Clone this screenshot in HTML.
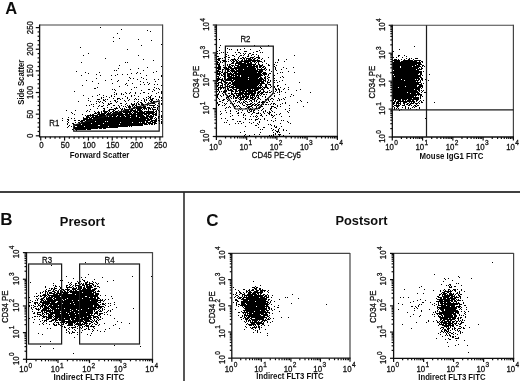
<!DOCTYPE html>
<html><head><meta charset="utf-8"><style>
html,body{margin:0;padding:0;background:#fff;}
body{width:520px;height:381px;overflow:hidden;font-family:"Liberation Sans", sans-serif;}
svg{display:block;}
</style></head><body><svg width="520" height="381" viewBox="0 0 520 381" font-family='"Liberation Sans", sans-serif' fill="#111"><defs><filter id="bl" x="0" y="0" width="100%" height="100%"><feGaussianBlur stdDeviation="0.45"/></filter></defs><rect width="520" height="381" fill="#fff"/><g filter="url(#bl)"><path d="M100 27h1v1h-1zM121 29h1v1h-1zM147 30h1v1h-1zM150 31h1v1h-1zM117 33h1v1h-1zM113 37h1v1h-1zM119 38h1v1h-1zM138 39h1v1h-1zM219 39h1v1h-1zM151 40h1v1h-1zM113 41h1v1h-1zM161 44h1v1h-1zM141 45h1v1h-1zM220 45h1v1h-1zM254 45h1v1h-1zM268 45h1v1h-1zM414 46h1v1h-1zM80 47h1v1h-1zM219 47h1v1h-1zM260 47h1v1h-1zM227 48h1v1h-1zM244 48h1v1h-1zM261 48h1v1h-1zM127 49h1v1h-1zM229 49h1v1h-1zM231 49h1v1h-1zM237 49h1v1h-1zM240 49h1v1h-1zM250 49h1v1h-1zM399 49h1v1h-1zM219 50h1v1h-1zM237 50h1v1h-1zM259 50h1v1h-1zM217 51h1v1h-1zM244 51h3v1h-3zM256 51h2v1h-2zM393 51h1v1h-1zM221 52h1v1h-1zM223 52h1v1h-1zM227 52h1v1h-1zM235 52h1v1h-1zM238 52h2v1h-2zM253 52h1v1h-1zM260 52h1v1h-1zM262 52h1v1h-1zM88 53h1v1h-1zM217 53h1v1h-1zM219 53h1v1h-1zM240 53h1v1h-1zM243 53h1v1h-1zM245 53h1v1h-1zM249 53h2v1h-2zM226 54h1v1h-1zM236 54h1v1h-1zM244 54h1v1h-1zM248 54h1v1h-1zM252 54h2v1h-2zM256 54h1v1h-1zM83 55h1v1h-1zM138 55h1v1h-1zM228 55h1v1h-1zM232 55h2v1h-2zM240 55h2v1h-2zM243 55h1v1h-1zM248 55h1v1h-1zM251 55h1v1h-1zM258 55h1v1h-1zM294 55h1v1h-1zM398 55h2v1h-2zM404 55h1v1h-1zM217 56h2v1h-2zM226 56h1v1h-1zM234 56h1v1h-1zM239 56h1v1h-1zM247 56h2v1h-2zM254 56h1v1h-1zM258 56h1v1h-1zM398 56h1v1h-1zM406 56h1v1h-1zM224 57h1v1h-1zM228 57h2v1h-2zM238 57h1v1h-1zM242 57h2v1h-2zM245 57h1v1h-1zM250 57h4v1h-4zM256 57h4v1h-4zM268 57h1v1h-1zM393 57h1v1h-1zM396 57h1v1h-1zM402 57h1v1h-1zM105 58h1v1h-1zM218 58h3v1h-3zM222 58h1v1h-1zM234 58h1v1h-1zM238 58h1v1h-1zM240 58h2v1h-2zM243 58h2v1h-2zM246 58h5v1h-5zM252 58h1v1h-1zM254 58h2v1h-2zM258 58h2v1h-2zM262 58h1v1h-1zM406 58h1v1h-1zM409 58h1v1h-1zM411 58h1v1h-1zM415 58h3v1h-3zM143 59h1v1h-1zM217 59h3v1h-3zM225 59h1v1h-1zM228 59h1v1h-1zM231 59h5v1h-5zM237 59h1v1h-1zM242 59h1v1h-1zM244 59h1v1h-1zM246 59h1v1h-1zM248 59h4v1h-4zM253 59h2v1h-2zM257 59h1v1h-1zM261 59h1v1h-1zM278 59h1v1h-1zM286 59h1v1h-1zM394 59h3v1h-3zM398 59h1v1h-1zM401 59h1v1h-1zM404 59h1v1h-1zM408 59h2v1h-2zM413 59h1v1h-1zM153 60h1v1h-1zM218 60h2v1h-2zM222 60h3v1h-3zM230 60h1v1h-1zM232 60h2v1h-2zM235 60h2v1h-2zM238 60h1v1h-1zM241 60h2v1h-2zM244 60h16v1h-16zM264 60h1v1h-1zM278 60h1v1h-1zM393 60h7v1h-7zM403 60h10v1h-10zM414 60h7v1h-7zM217 61h1v1h-1zM220 61h1v1h-1zM223 61h2v1h-2zM226 61h1v1h-1zM228 61h1v1h-1zM231 61h1v1h-1zM233 61h2v1h-2zM236 61h2v1h-2zM239 61h12v1h-12zM252 61h4v1h-4zM257 61h5v1h-5zM264 61h1v1h-1zM284 61h1v1h-1zM394 61h6v1h-6zM401 61h16v1h-16zM419 61h1v1h-1zM421 61h2v1h-2zM81 62h1v1h-1zM125 62h1v1h-1zM127 62h1v1h-1zM217 62h2v1h-2zM220 62h1v1h-1zM222 62h1v1h-1zM232 62h2v1h-2zM236 62h6v1h-6zM244 62h5v1h-5zM250 62h2v1h-2zM254 62h1v1h-1zM256 62h1v1h-1zM258 62h1v1h-1zM262 62h1v1h-1zM275 62h1v1h-1zM277 62h1v1h-1zM393 62h28v1h-28zM422 62h1v1h-1zM217 63h1v1h-1zM219 63h1v1h-1zM225 63h1v1h-1zM231 63h3v1h-3zM235 63h11v1h-11zM247 63h5v1h-5zM255 63h1v1h-1zM258 63h1v1h-1zM266 63h1v1h-1zM393 63h28v1h-28zM217 64h3v1h-3zM227 64h1v1h-1zM229 64h2v1h-2zM235 64h1v1h-1zM238 64h18v1h-18zM258 64h2v1h-2zM262 64h1v1h-1zM268 64h1v1h-1zM274 64h1v1h-1zM393 64h24v1h-24zM418 64h4v1h-4zM119 65h1v1h-1zM218 65h2v1h-2zM223 65h1v1h-1zM227 65h1v1h-1zM229 65h1v1h-1zM231 65h3v1h-3zM235 65h4v1h-4zM240 65h12v1h-12zM253 65h2v1h-2zM256 65h2v1h-2zM259 65h4v1h-4zM268 65h2v1h-2zM276 65h1v1h-1zM393 65h22v1h-22zM416 65h4v1h-4zM422 65h2v1h-2zM161 66h1v1h-1zM218 66h3v1h-3zM225 66h1v1h-1zM228 66h3v1h-3zM232 66h1v1h-1zM234 66h1v1h-1zM237 66h10v1h-10zM248 66h10v1h-10zM259 66h3v1h-3zM263 66h2v1h-2zM274 66h1v1h-1zM393 66h7v1h-7zM401 66h11v1h-11zM413 66h8v1h-8zM422 66h1v1h-1zM424 66h1v1h-1zM147 67h1v1h-1zM217 67h4v1h-4zM223 67h4v1h-4zM228 67h4v1h-4zM234 67h21v1h-21zM256 67h2v1h-2zM259 67h2v1h-2zM262 67h2v1h-2zM265 67h1v1h-1zM275 67h1v1h-1zM283 67h1v1h-1zM293 67h1v1h-1zM393 67h7v1h-7zM401 67h18v1h-18zM421 67h1v1h-1zM118 68h1v1h-1zM138 68h1v1h-1zM217 68h4v1h-4zM224 68h5v1h-5zM230 68h26v1h-26zM257 68h1v1h-1zM261 68h1v1h-1zM264 68h2v1h-2zM275 68h1v1h-1zM286 68h1v1h-1zM393 68h25v1h-25zM419 68h1v1h-1zM421 68h2v1h-2zM130 69h1v1h-1zM218 69h3v1h-3zM222 69h2v1h-2zM225 69h5v1h-5zM231 69h3v1h-3zM235 69h2v1h-2zM238 69h5v1h-5zM244 69h12v1h-12zM257 69h8v1h-8zM266 69h1v1h-1zM269 69h1v1h-1zM275 69h1v1h-1zM281 69h1v1h-1zM393 69h23v1h-23zM417 69h5v1h-5zM114 70h1v1h-1zM116 70h1v1h-1zM143 70h1v1h-1zM217 70h2v1h-2zM222 70h1v1h-1zM225 70h1v1h-1zM227 70h2v1h-2zM230 70h5v1h-5zM236 70h22v1h-22zM259 70h4v1h-4zM265 70h1v1h-1zM269 70h1v1h-1zM276 70h1v1h-1zM394 70h25v1h-25zM76 71h1v1h-1zM156 71h1v1h-1zM217 71h4v1h-4zM222 71h1v1h-1zM225 71h1v1h-1zM227 71h3v1h-3zM231 71h32v1h-32zM271 71h1v1h-1zM288 71h1v1h-1zM393 71h29v1h-29zM423 71h1v1h-1zM85 72h1v1h-1zM99 72h1v1h-1zM137 72h1v1h-1zM153 72h1v1h-1zM217 72h1v1h-1zM219 72h1v1h-1zM221 72h2v1h-2zM224 72h1v1h-1zM226 72h2v1h-2zM230 72h1v1h-1zM232 72h1v1h-1zM234 72h3v1h-3zM238 72h19v1h-19zM258 72h4v1h-4zM263 72h3v1h-3zM280 72h1v1h-1zM282 72h1v1h-1zM294 72h1v1h-1zM393 72h29v1h-29zM88 73h1v1h-1zM131 73h1v1h-1zM136 73h1v1h-1zM140 73h1v1h-1zM217 73h4v1h-4zM223 73h3v1h-3zM227 73h5v1h-5zM233 73h28v1h-28zM262 73h5v1h-5zM269 73h2v1h-2zM277 73h1v1h-1zM393 73h26v1h-26zM420 73h2v1h-2zM96 74h1v1h-1zM117 74h1v1h-1zM122 74h1v1h-1zM127 74h1v1h-1zM217 74h3v1h-3zM221 74h1v1h-1zM223 74h2v1h-2zM227 74h7v1h-7zM235 74h27v1h-27zM263 74h4v1h-4zM268 74h1v1h-1zM273 74h1v1h-1zM394 74h24v1h-24zM420 74h2v1h-2zM429 74h1v1h-1zM81 75h1v1h-1zM100 75h1v1h-1zM111 75h1v1h-1zM115 75h1v1h-1zM146 75h1v1h-1zM161 75h1v1h-1zM219 75h1v1h-1zM221 75h2v1h-2zM224 75h1v1h-1zM227 75h3v1h-3zM231 75h6v1h-6zM238 75h2v1h-2zM241 75h22v1h-22zM264 75h1v1h-1zM268 75h1v1h-1zM274 75h1v1h-1zM393 75h28v1h-28zM422 75h1v1h-1zM426 75h1v1h-1zM161 76h1v1h-1zM217 76h2v1h-2zM223 76h3v1h-3zM227 76h5v1h-5zM233 76h1v1h-1zM235 76h5v1h-5zM241 76h20v1h-20zM265 76h1v1h-1zM267 76h1v1h-1zM273 76h1v1h-1zM282 76h1v1h-1zM393 76h1v1h-1zM395 76h26v1h-26zM129 77h1v1h-1zM141 77h1v1h-1zM218 77h1v1h-1zM220 77h1v1h-1zM224 77h2v1h-2zM228 77h20v1h-20zM249 77h10v1h-10zM260 77h2v1h-2zM264 77h2v1h-2zM268 77h2v1h-2zM273 77h1v1h-1zM280 77h1v1h-1zM283 77h1v1h-1zM393 77h26v1h-26zM420 77h2v1h-2zM96 78h1v1h-1zM130 78h1v1h-1zM133 78h1v1h-1zM143 78h1v1h-1zM217 78h3v1h-3zM222 78h1v1h-1zM224 78h2v1h-2zM227 78h31v1h-31zM259 78h4v1h-4zM264 78h2v1h-2zM267 78h1v1h-1zM274 78h1v1h-1zM393 78h27v1h-27zM421 78h2v1h-2zM111 79h1v1h-1zM137 79h1v1h-1zM146 79h1v1h-1zM154 79h1v1h-1zM158 79h1v1h-1zM217 79h6v1h-6zM224 79h1v1h-1zM226 79h6v1h-6zM233 79h15v1h-15zM249 79h15v1h-15zM265 79h1v1h-1zM268 79h1v1h-1zM393 79h8v1h-8zM402 79h13v1h-13zM416 79h1v1h-1zM418 79h2v1h-2zM421 79h2v1h-2zM425 79h1v1h-1zM86 80h1v1h-1zM105 80h1v1h-1zM118 80h1v1h-1zM128 80h1v1h-1zM217 80h2v1h-2zM221 80h3v1h-3zM226 80h8v1h-8zM235 80h27v1h-27zM263 80h3v1h-3zM268 80h1v1h-1zM270 80h1v1h-1zM274 80h1v1h-1zM276 80h1v1h-1zM282 80h1v1h-1zM393 80h11v1h-11zM405 80h14v1h-14zM420 80h1v1h-1zM422 80h1v1h-1zM428 80h1v1h-1zM92 81h1v1h-1zM117 81h1v1h-1zM140 81h1v1h-1zM155 81h1v1h-1zM217 81h1v1h-1zM221 81h1v1h-1zM223 81h2v1h-2zM231 81h2v1h-2zM234 81h30v1h-30zM265 81h1v1h-1zM267 81h1v1h-1zM270 81h1v1h-1zM279 81h1v1h-1zM393 81h23v1h-23zM417 81h1v1h-1zM420 81h1v1h-1zM143 82h1v1h-1zM147 82h1v1h-1zM218 82h4v1h-4zM224 82h4v1h-4zM229 82h2v1h-2zM232 82h28v1h-28zM261 82h3v1h-3zM267 82h3v1h-3zM274 82h1v1h-1zM277 82h1v1h-1zM299 82h1v1h-1zM393 82h28v1h-28zM98 83h1v1h-1zM112 83h1v1h-1zM126 83h1v1h-1zM132 83h1v1h-1zM149 83h1v1h-1zM217 83h2v1h-2zM221 83h2v1h-2zM226 83h1v1h-1zM228 83h3v1h-3zM232 83h33v1h-33zM267 83h1v1h-1zM393 83h26v1h-26zM421 83h1v1h-1zM423 83h1v1h-1zM125 84h1v1h-1zM140 84h1v1h-1zM144 84h1v1h-1zM148 84h1v1h-1zM154 84h1v1h-1zM157 84h1v1h-1zM218 84h1v1h-1zM222 84h1v1h-1zM224 84h1v1h-1zM227 84h2v1h-2zM231 84h28v1h-28zM260 84h2v1h-2zM265 84h2v1h-2zM268 84h3v1h-3zM285 84h1v1h-1zM393 84h29v1h-29zM82 85h1v1h-1zM127 85h1v1h-1zM161 85h1v1h-1zM217 85h2v1h-2zM220 85h3v1h-3zM225 85h1v1h-1zM227 85h1v1h-1zM229 85h2v1h-2zM233 85h25v1h-25zM259 85h3v1h-3zM265 85h2v1h-2zM270 85h1v1h-1zM277 85h2v1h-2zM393 85h24v1h-24zM419 85h4v1h-4zM119 86h1v1h-1zM217 86h1v1h-1zM220 86h1v1h-1zM222 86h1v1h-1zM226 86h4v1h-4zM231 86h3v1h-3zM235 86h22v1h-22zM258 86h1v1h-1zM260 86h1v1h-1zM262 86h1v1h-1zM265 86h2v1h-2zM271 86h1v1h-1zM274 86h1v1h-1zM277 86h1v1h-1zM393 86h12v1h-12zM406 86h11v1h-11zM418 86h5v1h-5zM97 87h1v1h-1zM134 87h1v1h-1zM136 87h1v1h-1zM154 87h1v1h-1zM218 87h8v1h-8zM227 87h1v1h-1zM229 87h33v1h-33zM263 87h5v1h-5zM270 87h1v1h-1zM274 87h1v1h-1zM280 87h1v1h-1zM288 87h1v1h-1zM393 87h5v1h-5zM399 87h22v1h-22zM422 87h1v1h-1zM94 88h2v1h-2zM156 88h1v1h-1zM158 88h1v1h-1zM218 88h1v1h-1zM220 88h2v1h-2zM223 88h1v1h-1zM225 88h1v1h-1zM227 88h2v1h-2zM232 88h2v1h-2zM236 88h25v1h-25zM262 88h1v1h-1zM264 88h1v1h-1zM267 88h2v1h-2zM275 88h1v1h-1zM278 88h1v1h-1zM284 88h1v1h-1zM393 88h27v1h-27zM421 88h1v1h-1zM112 89h1v1h-1zM114 89h1v1h-1zM131 89h1v1h-1zM148 89h2v1h-2zM153 89h1v1h-1zM159 89h1v1h-1zM217 89h2v1h-2zM220 89h1v1h-1zM227 89h2v1h-2zM230 89h2v1h-2zM233 89h4v1h-4zM239 89h8v1h-8zM248 89h3v1h-3zM252 89h1v1h-1zM254 89h5v1h-5zM261 89h3v1h-3zM275 89h2v1h-2zM278 89h2v1h-2zM283 89h1v1h-1zM288 89h1v1h-1zM300 89h1v1h-1zM393 89h21v1h-21zM415 89h5v1h-5zM115 90h1v1h-1zM141 90h1v1h-1zM154 90h1v1h-1zM218 90h1v1h-1zM224 90h1v1h-1zM226 90h1v1h-1zM228 90h5v1h-5zM235 90h2v1h-2zM238 90h7v1h-7zM246 90h12v1h-12zM260 90h1v1h-1zM263 90h1v1h-1zM269 90h1v1h-1zM276 90h1v1h-1zM279 90h1v1h-1zM296 90h1v1h-1zM393 90h24v1h-24zM418 90h2v1h-2zM421 90h1v1h-1zM423 90h1v1h-1zM74 91h1v1h-1zM152 91h1v1h-1zM161 91h1v1h-1zM217 91h1v1h-1zM219 91h1v1h-1zM221 91h1v1h-1zM223 91h2v1h-2zM226 91h1v1h-1zM231 91h3v1h-3zM235 91h3v1h-3zM239 91h2v1h-2zM242 91h14v1h-14zM258 91h3v1h-3zM263 91h2v1h-2zM267 91h1v1h-1zM271 91h1v1h-1zM275 91h1v1h-1zM279 91h1v1h-1zM281 91h1v1h-1zM393 91h25v1h-25zM419 91h1v1h-1zM422 91h1v1h-1zM114 92h1v1h-1zM125 92h1v1h-1zM130 92h1v1h-1zM135 92h1v1h-1zM143 92h2v1h-2zM158 92h1v1h-1zM161 92h1v1h-1zM219 92h1v1h-1zM223 92h3v1h-3zM231 92h1v1h-1zM235 92h1v1h-1zM239 92h5v1h-5zM245 92h2v1h-2zM248 92h5v1h-5zM254 92h2v1h-2zM257 92h3v1h-3zM261 92h3v1h-3zM265 92h3v1h-3zM269 92h2v1h-2zM277 92h1v1h-1zM279 92h1v1h-1zM285 92h1v1h-1zM310 92h1v1h-1zM393 92h14v1h-14zM408 92h11v1h-11zM421 92h1v1h-1zM424 92h2v1h-2zM116 93h1v1h-1zM121 93h1v1h-1zM126 93h1v1h-1zM129 93h1v1h-1zM135 93h1v1h-1zM140 93h1v1h-1zM148 93h1v1h-1zM156 93h1v1h-1zM161 93h1v1h-1zM218 93h1v1h-1zM222 93h1v1h-1zM228 93h2v1h-2zM231 93h2v1h-2zM234 93h22v1h-22zM257 93h2v1h-2zM260 93h3v1h-3zM272 93h1v1h-1zM274 93h1v1h-1zM393 93h17v1h-17zM411 93h5v1h-5zM417 93h3v1h-3zM99 94h1v1h-1zM114 94h1v1h-1zM116 94h1v1h-1zM121 94h1v1h-1zM123 94h1v1h-1zM217 94h2v1h-2zM223 94h1v1h-1zM225 94h1v1h-1zM231 94h3v1h-3zM236 94h1v1h-1zM238 94h5v1h-5zM244 94h6v1h-6zM251 94h4v1h-4zM257 94h1v1h-1zM259 94h1v1h-1zM261 94h1v1h-1zM263 94h2v1h-2zM266 94h1v1h-1zM279 94h1v1h-1zM291 94h1v1h-1zM393 94h29v1h-29zM83 95h1v1h-1zM97 95h1v1h-1zM103 95h1v1h-1zM111 95h1v1h-1zM131 95h1v1h-1zM134 95h1v1h-1zM151 95h1v1h-1zM217 95h1v1h-1zM220 95h1v1h-1zM223 95h1v1h-1zM227 95h1v1h-1zM229 95h2v1h-2zM233 95h2v1h-2zM236 95h5v1h-5zM242 95h2v1h-2zM245 95h2v1h-2zM248 95h1v1h-1zM250 95h5v1h-5zM256 95h3v1h-3zM260 95h1v1h-1zM274 95h1v1h-1zM293 95h1v1h-1zM393 95h24v1h-24zM418 95h1v1h-1zM420 95h2v1h-2zM92 96h1v1h-1zM106 96h1v1h-1zM111 96h1v1h-1zM114 96h1v1h-1zM125 96h1v1h-1zM131 96h1v1h-1zM138 96h1v1h-1zM148 96h1v1h-1zM150 96h1v1h-1zM155 96h1v1h-1zM159 96h1v1h-1zM217 96h1v1h-1zM221 96h1v1h-1zM228 96h2v1h-2zM231 96h1v1h-1zM233 96h2v1h-2zM237 96h2v1h-2zM240 96h1v1h-1zM242 96h7v1h-7zM250 96h1v1h-1zM252 96h1v1h-1zM254 96h1v1h-1zM256 96h1v1h-1zM258 96h1v1h-1zM262 96h1v1h-1zM265 96h1v1h-1zM270 96h1v1h-1zM274 96h1v1h-1zM290 96h1v1h-1zM393 96h21v1h-21zM415 96h1v1h-1zM420 96h1v1h-1zM422 96h1v1h-1zM101 97h1v1h-1zM103 97h1v1h-1zM109 97h1v1h-1zM127 97h1v1h-1zM146 97h1v1h-1zM149 97h2v1h-2zM159 97h1v1h-1zM161 97h1v1h-1zM217 97h1v1h-1zM226 97h3v1h-3zM230 97h1v1h-1zM233 97h1v1h-1zM235 97h3v1h-3zM239 97h6v1h-6zM246 97h3v1h-3zM250 97h4v1h-4zM255 97h1v1h-1zM257 97h2v1h-2zM265 97h1v1h-1zM285 97h1v1h-1zM393 97h26v1h-26zM420 97h1v1h-1zM426 97h1v1h-1zM88 98h1v1h-1zM101 98h1v1h-1zM113 98h1v1h-1zM117 98h3v1h-3zM122 98h1v1h-1zM127 98h1v1h-1zM135 98h1v1h-1zM143 98h1v1h-1zM148 98h1v1h-1zM150 98h1v1h-1zM152 98h2v1h-2zM161 98h1v1h-1zM218 98h1v1h-1zM226 98h1v1h-1zM231 98h1v1h-1zM233 98h1v1h-1zM235 98h2v1h-2zM238 98h1v1h-1zM240 98h2v1h-2zM243 98h1v1h-1zM245 98h3v1h-3zM250 98h3v1h-3zM254 98h2v1h-2zM258 98h2v1h-2zM267 98h1v1h-1zM271 98h2v1h-2zM278 98h1v1h-1zM283 98h1v1h-1zM393 98h19v1h-19zM413 98h6v1h-6zM420 98h1v1h-1zM97 99h3v1h-3zM103 99h1v1h-1zM105 99h1v1h-1zM107 99h1v1h-1zM117 99h1v1h-1zM120 99h1v1h-1zM129 99h1v1h-1zM134 99h1v1h-1zM136 99h1v1h-1zM138 99h1v1h-1zM144 99h1v1h-1zM146 99h1v1h-1zM150 99h3v1h-3zM156 99h1v1h-1zM158 99h1v1h-1zM219 99h1v1h-1zM223 99h2v1h-2zM227 99h1v1h-1zM239 99h5v1h-5zM245 99h2v1h-2zM248 99h2v1h-2zM252 99h3v1h-3zM257 99h1v1h-1zM260 99h1v1h-1zM265 99h2v1h-2zM268 99h1v1h-1zM270 99h1v1h-1zM273 99h1v1h-1zM279 99h1v1h-1zM281 99h1v1h-1zM284 99h1v1h-1zM393 99h1v1h-1zM395 99h6v1h-6zM402 99h5v1h-5zM408 99h11v1h-11zM88 100h1v1h-1zM103 100h2v1h-2zM114 100h2v1h-2zM124 100h1v1h-1zM128 100h1v1h-1zM141 100h1v1h-1zM144 100h1v1h-1zM146 100h1v1h-1zM149 100h1v1h-1zM151 100h2v1h-2zM161 100h1v1h-1zM222 100h2v1h-2zM228 100h1v1h-1zM235 100h2v1h-2zM240 100h1v1h-1zM244 100h1v1h-1zM250 100h2v1h-2zM254 100h1v1h-1zM256 100h1v1h-1zM268 100h1v1h-1zM277 100h1v1h-1zM279 100h1v1h-1zM300 100h1v1h-1zM393 100h1v1h-1zM395 100h1v1h-1zM398 100h3v1h-3zM402 100h2v1h-2zM405 100h1v1h-1zM407 100h4v1h-4zM412 100h2v1h-2zM416 100h2v1h-2zM420 100h1v1h-1zM423 100h1v1h-1zM78 101h1v1h-1zM90 101h1v1h-1zM96 101h1v1h-1zM98 101h1v1h-1zM100 101h1v1h-1zM105 101h1v1h-1zM110 101h1v1h-1zM115 101h1v1h-1zM117 101h1v1h-1zM125 101h1v1h-1zM134 101h1v1h-1zM138 101h1v1h-1zM144 101h1v1h-1zM150 101h2v1h-2zM153 101h2v1h-2zM219 101h2v1h-2zM227 101h1v1h-1zM233 101h1v1h-1zM235 101h1v1h-1zM238 101h2v1h-2zM243 101h1v1h-1zM245 101h2v1h-2zM249 101h1v1h-1zM251 101h1v1h-1zM254 101h1v1h-1zM256 101h1v1h-1zM259 101h1v1h-1zM262 101h2v1h-2zM269 101h1v1h-1zM272 101h1v1h-1zM301 101h1v1h-1zM394 101h2v1h-2zM397 101h18v1h-18zM416 101h1v1h-1zM419 101h1v1h-1zM421 101h1v1h-1zM99 102h1v1h-1zM102 102h1v1h-1zM116 102h1v1h-1zM137 102h1v1h-1zM140 102h2v1h-2zM145 102h1v1h-1zM148 102h1v1h-1zM151 102h1v1h-1zM153 102h1v1h-1zM217 102h1v1h-1zM222 102h1v1h-1zM237 102h1v1h-1zM239 102h1v1h-1zM241 102h1v1h-1zM243 102h2v1h-2zM247 102h1v1h-1zM252 102h1v1h-1zM258 102h2v1h-2zM261 102h4v1h-4zM266 102h2v1h-2zM285 102h1v1h-1zM297 102h1v1h-1zM307 102h1v1h-1zM393 102h2v1h-2zM396 102h3v1h-3zM400 102h1v1h-1zM403 102h4v1h-4zM409 102h1v1h-1zM411 102h1v1h-1zM413 102h2v1h-2zM418 102h1v1h-1zM421 102h2v1h-2zM434 102h1v1h-1zM96 103h1v1h-1zM103 103h1v1h-1zM108 103h1v1h-1zM110 103h2v1h-2zM120 103h2v1h-2zM126 103h1v1h-1zM131 103h1v1h-1zM134 103h1v1h-1zM136 103h1v1h-1zM138 103h1v1h-1zM141 103h2v1h-2zM147 103h1v1h-1zM150 103h1v1h-1zM152 103h3v1h-3zM158 103h1v1h-1zM161 103h1v1h-1zM217 103h1v1h-1zM224 103h1v1h-1zM226 103h1v1h-1zM230 103h1v1h-1zM232 103h1v1h-1zM234 103h1v1h-1zM240 103h1v1h-1zM242 103h1v1h-1zM245 103h1v1h-1zM250 103h2v1h-2zM254 103h1v1h-1zM257 103h1v1h-1zM262 103h1v1h-1zM271 103h1v1h-1zM273 103h2v1h-2zM282 103h1v1h-1zM285 103h1v1h-1zM393 103h2v1h-2zM396 103h5v1h-5zM403 103h2v1h-2zM407 103h2v1h-2zM410 103h4v1h-4zM415 103h3v1h-3zM419 103h1v1h-1zM91 104h1v1h-1zM93 104h1v1h-1zM108 104h2v1h-2zM125 104h1v1h-1zM131 104h4v1h-4zM136 104h1v1h-1zM138 104h2v1h-2zM141 104h3v1h-3zM146 104h1v1h-1zM148 104h1v1h-1zM155 104h1v1h-1zM161 104h1v1h-1zM218 104h2v1h-2zM225 104h1v1h-1zM233 104h1v1h-1zM242 104h1v1h-1zM246 104h5v1h-5zM252 104h2v1h-2zM255 104h2v1h-2zM258 104h2v1h-2zM261 104h1v1h-1zM263 104h1v1h-1zM265 104h2v1h-2zM268 104h1v1h-1zM270 104h1v1h-1zM273 104h1v1h-1zM275 104h1v1h-1zM280 104h1v1h-1zM393 104h1v1h-1zM396 104h1v1h-1zM398 104h1v1h-1zM400 104h1v1h-1zM404 104h1v1h-1zM406 104h2v1h-2zM409 104h2v1h-2zM416 104h1v1h-1zM86 105h1v1h-1zM89 105h1v1h-1zM99 105h1v1h-1zM103 105h1v1h-1zM107 105h1v1h-1zM113 105h2v1h-2zM118 105h1v1h-1zM121 105h1v1h-1zM127 105h1v1h-1zM129 105h1v1h-1zM132 105h2v1h-2zM135 105h2v1h-2zM142 105h2v1h-2zM147 105h1v1h-1zM149 105h6v1h-6zM157 105h1v1h-1zM218 105h1v1h-1zM222 105h1v1h-1zM224 105h1v1h-1zM233 105h1v1h-1zM236 105h1v1h-1zM238 105h1v1h-1zM243 105h2v1h-2zM247 105h1v1h-1zM251 105h2v1h-2zM254 105h2v1h-2zM257 105h2v1h-2zM261 105h1v1h-1zM277 105h1v1h-1zM289 105h1v1h-1zM394 105h6v1h-6zM402 105h3v1h-3zM408 105h2v1h-2zM411 105h1v1h-1zM414 105h2v1h-2zM417 105h2v1h-2zM93 106h1v1h-1zM98 106h1v1h-1zM101 106h2v1h-2zM119 106h1v1h-1zM123 106h1v1h-1zM125 106h1v1h-1zM128 106h3v1h-3zM132 106h1v1h-1zM134 106h1v1h-1zM136 106h5v1h-5zM143 106h3v1h-3zM153 106h1v1h-1zM158 106h2v1h-2zM229 106h1v1h-1zM234 106h2v1h-2zM237 106h1v1h-1zM239 106h1v1h-1zM246 106h1v1h-1zM248 106h4v1h-4zM256 106h1v1h-1zM261 106h2v1h-2zM271 106h3v1h-3zM277 106h1v1h-1zM280 106h1v1h-1zM303 106h1v1h-1zM393 106h1v1h-1zM396 106h3v1h-3zM405 106h1v1h-1zM413 106h1v1h-1zM415 106h2v1h-2zM107 107h1v1h-1zM111 107h1v1h-1zM116 107h1v1h-1zM119 107h1v1h-1zM126 107h1v1h-1zM128 107h3v1h-3zM133 107h13v1h-13zM147 107h3v1h-3zM151 107h1v1h-1zM153 107h3v1h-3zM157 107h1v1h-1zM226 107h1v1h-1zM228 107h1v1h-1zM230 107h1v1h-1zM240 107h1v1h-1zM247 107h3v1h-3zM252 107h1v1h-1zM256 107h1v1h-1zM259 107h2v1h-2zM271 107h1v1h-1zM274 107h2v1h-2zM394 107h1v1h-1zM397 107h1v1h-1zM402 107h1v1h-1zM405 107h1v1h-1zM408 107h1v1h-1zM412 107h1v1h-1zM414 107h1v1h-1zM419 107h1v1h-1zM97 108h1v1h-1zM103 108h2v1h-2zM114 108h4v1h-4zM120 108h1v1h-1zM122 108h1v1h-1zM124 108h1v1h-1zM129 108h1v1h-1zM133 108h2v1h-2zM136 108h6v1h-6zM143 108h4v1h-4zM148 108h3v1h-3zM152 108h1v1h-1zM157 108h1v1h-1zM225 108h1v1h-1zM234 108h1v1h-1zM239 108h1v1h-1zM241 108h1v1h-1zM245 108h2v1h-2zM248 108h1v1h-1zM250 108h1v1h-1zM255 108h2v1h-2zM258 108h2v1h-2zM263 108h1v1h-1zM270 108h2v1h-2zM276 108h1v1h-1zM289 108h1v1h-1zM394 108h1v1h-1zM396 108h1v1h-1zM398 108h1v1h-1zM405 108h1v1h-1zM408 108h1v1h-1zM410 108h1v1h-1zM419 108h1v1h-1zM90 109h1v1h-1zM104 109h1v1h-1zM109 109h5v1h-5zM115 109h1v1h-1zM121 109h2v1h-2zM124 109h5v1h-5zM131 109h2v1h-2zM135 109h1v1h-1zM137 109h4v1h-4zM142 109h1v1h-1zM144 109h1v1h-1zM146 109h1v1h-1zM148 109h1v1h-1zM150 109h1v1h-1zM152 109h4v1h-4zM157 109h1v1h-1zM240 109h1v1h-1zM249 109h4v1h-4zM254 109h1v1h-1zM262 109h1v1h-1zM270 109h1v1h-1zM285 109h1v1h-1zM394 109h1v1h-1zM401 109h1v1h-1zM416 109h1v1h-1zM66 110h1v1h-1zM75 110h1v1h-1zM87 110h1v1h-1zM103 110h2v1h-2zM108 110h2v1h-2zM113 110h2v1h-2zM118 110h1v1h-1zM121 110h1v1h-1zM123 110h1v1h-1zM125 110h4v1h-4zM130 110h6v1h-6zM137 110h5v1h-5zM148 110h1v1h-1zM153 110h1v1h-1zM156 110h1v1h-1zM158 110h1v1h-1zM225 110h1v1h-1zM230 110h1v1h-1zM238 110h1v1h-1zM242 110h1v1h-1zM247 110h1v1h-1zM249 110h1v1h-1zM251 110h1v1h-1zM253 110h2v1h-2zM258 110h1v1h-1zM261 110h1v1h-1zM265 110h1v1h-1zM271 110h1v1h-1zM289 110h1v1h-1zM399 110h1v1h-1zM86 111h1v1h-1zM89 111h1v1h-1zM94 111h1v1h-1zM98 111h1v1h-1zM101 111h1v1h-1zM103 111h5v1h-5zM109 111h1v1h-1zM112 111h2v1h-2zM115 111h3v1h-3zM119 111h2v1h-2zM123 111h9v1h-9zM133 111h5v1h-5zM139 111h4v1h-4zM144 111h10v1h-10zM155 111h2v1h-2zM159 111h1v1h-1zM161 111h1v1h-1zM220 111h1v1h-1zM230 111h1v1h-1zM236 111h1v1h-1zM247 111h1v1h-1zM250 111h2v1h-2zM253 111h1v1h-1zM263 111h1v1h-1zM265 111h1v1h-1zM269 111h1v1h-1zM272 111h1v1h-1zM287 111h1v1h-1zM71 112h1v1h-1zM95 112h1v1h-1zM97 112h3v1h-3zM101 112h1v1h-1zM104 112h3v1h-3zM108 112h1v1h-1zM110 112h2v1h-2zM113 112h9v1h-9zM123 112h8v1h-8zM132 112h1v1h-1zM134 112h11v1h-11zM146 112h9v1h-9zM156 112h1v1h-1zM159 112h1v1h-1zM226 112h1v1h-1zM238 112h1v1h-1zM241 112h1v1h-1zM248 112h2v1h-2zM253 112h2v1h-2zM258 112h1v1h-1zM263 112h1v1h-1zM267 112h1v1h-1zM269 112h2v1h-2zM274 112h1v1h-1zM288 112h1v1h-1zM72 113h1v1h-1zM94 113h3v1h-3zM98 113h2v1h-2zM101 113h5v1h-5zM107 113h4v1h-4zM112 113h2v1h-2zM116 113h7v1h-7zM125 113h3v1h-3zM129 113h3v1h-3zM133 113h3v1h-3zM137 113h17v1h-17zM155 113h2v1h-2zM221 113h1v1h-1zM230 113h1v1h-1zM237 113h2v1h-2zM244 113h1v1h-1zM252 113h1v1h-1zM256 113h3v1h-3zM260 113h1v1h-1zM264 113h1v1h-1zM268 113h2v1h-2zM280 113h1v1h-1zM74 114h1v1h-1zM82 114h1v1h-1zM90 114h1v1h-1zM92 114h2v1h-2zM97 114h8v1h-8zM106 114h4v1h-4zM111 114h32v1h-32zM144 114h3v1h-3zM148 114h2v1h-2zM152 114h5v1h-5zM159 114h1v1h-1zM220 114h1v1h-1zM243 114h1v1h-1zM251 114h1v1h-1zM261 114h1v1h-1zM269 114h1v1h-1zM271 114h1v1h-1zM276 114h1v1h-1zM279 114h1v1h-1zM85 115h1v1h-1zM87 115h11v1h-11zM99 115h7v1h-7zM107 115h1v1h-1zM109 115h8v1h-8zM118 115h6v1h-6zM125 115h5v1h-5zM131 115h5v1h-5zM137 115h7v1h-7zM146 115h3v1h-3zM150 115h2v1h-2zM153 115h1v1h-1zM155 115h2v1h-2zM161 115h1v1h-1zM232 115h1v1h-1zM238 115h1v1h-1zM243 115h1v1h-1zM245 115h1v1h-1zM256 115h1v1h-1zM260 115h2v1h-2zM266 115h1v1h-1zM271 115h2v1h-2zM274 115h1v1h-1zM86 116h3v1h-3zM90 116h1v1h-1zM92 116h2v1h-2zM95 116h11v1h-11zM107 116h1v1h-1zM109 116h3v1h-3zM113 116h3v1h-3zM117 116h3v1h-3zM121 116h4v1h-4zM126 116h10v1h-10zM137 116h8v1h-8zM146 116h8v1h-8zM158 116h2v1h-2zM161 116h1v1h-1zM230 116h1v1h-1zM250 116h1v1h-1zM253 116h1v1h-1zM255 116h1v1h-1zM257 116h1v1h-1zM262 116h1v1h-1zM273 116h1v1h-1zM281 116h1v1h-1zM289 116h1v1h-1zM68 117h1v1h-1zM83 117h1v1h-1zM86 117h4v1h-4zM91 117h39v1h-39zM131 117h8v1h-8zM140 117h8v1h-8zM149 117h4v1h-4zM155 117h1v1h-1zM158 117h1v1h-1zM161 117h1v1h-1zM243 117h1v1h-1zM256 117h1v1h-1zM272 117h1v1h-1zM62 118h1v1h-1zM71 118h1v1h-1zM74 118h1v1h-1zM83 118h5v1h-5zM89 118h3v1h-3zM93 118h56v1h-56zM150 118h3v1h-3zM154 118h1v1h-1zM156 118h1v1h-1zM158 118h1v1h-1zM221 118h1v1h-1zM225 118h1v1h-1zM245 118h1v1h-1zM258 118h1v1h-1zM264 118h1v1h-1zM275 118h1v1h-1zM425 118h1v1h-1zM67 119h2v1h-2zM83 119h63v1h-63zM147 119h5v1h-5zM155 119h2v1h-2zM161 119h1v1h-1zM232 119h2v1h-2zM245 119h1v1h-1zM249 119h1v1h-1zM251 119h1v1h-1zM255 119h3v1h-3zM260 119h1v1h-1zM264 119h1v1h-1zM62 120h1v1h-1zM68 120h1v1h-1zM74 120h2v1h-2zM78 120h2v1h-2zM81 120h4v1h-4zM86 120h64v1h-64zM151 120h6v1h-6zM158 120h2v1h-2zM227 120h1v1h-1zM255 120h1v1h-1zM267 120h1v1h-1zM271 120h1v1h-1zM275 120h1v1h-1zM281 120h1v1h-1zM283 120h1v1h-1zM67 121h1v1h-1zM80 121h3v1h-3zM85 121h10v1h-10zM96 121h9v1h-9zM106 121h1v1h-1zM108 121h37v1h-37zM146 121h2v1h-2zM150 121h3v1h-3zM154 121h3v1h-3zM159 121h1v1h-1zM161 121h2v1h-2zM237 121h1v1h-1zM239 121h2v1h-2zM259 121h1v1h-1zM273 121h1v1h-1zM287 121h1v1h-1zM68 122h1v1h-1zM75 122h1v1h-1zM78 122h2v1h-2zM81 122h2v1h-2zM84 122h36v1h-36zM121 122h11v1h-11zM133 122h6v1h-6zM140 122h1v1h-1zM142 122h3v1h-3zM146 122h5v1h-5zM152 122h4v1h-4zM161 122h1v1h-1zM224 122h1v1h-1zM226 122h1v1h-1zM243 122h1v1h-1zM249 122h1v1h-1zM253 122h1v1h-1zM259 122h1v1h-1zM288 122h1v1h-1zM67 123h1v1h-1zM72 123h2v1h-2zM79 123h1v1h-1zM81 123h10v1h-10zM92 123h11v1h-11zM104 123h43v1h-43zM148 123h5v1h-5zM154 123h3v1h-3zM159 123h1v1h-1zM161 123h1v1h-1zM235 123h1v1h-1zM238 123h1v1h-1zM241 123h1v1h-1zM251 123h1v1h-1zM257 123h1v1h-1zM280 123h1v1h-1zM290 123h1v1h-1zM67 124h1v1h-1zM73 124h2v1h-2zM76 124h5v1h-5zM82 124h37v1h-37zM120 124h23v1h-23zM144 124h4v1h-4zM149 124h1v1h-1zM151 124h2v1h-2zM154 124h1v1h-1zM229 124h1v1h-1zM258 124h1v1h-1zM268 124h1v1h-1zM270 124h1v1h-1zM69 125h1v1h-1zM75 125h23v1h-23zM100 125h43v1h-43zM255 125h2v1h-2zM271 125h1v1h-1zM274 125h1v1h-1zM68 126h1v1h-1zM71 126h1v1h-1zM74 126h1v1h-1zM77 126h7v1h-7zM85 126h23v1h-23zM109 126h19v1h-19zM129 126h1v1h-1zM131 126h1v1h-1zM245 126h1v1h-1zM274 126h1v1h-1zM276 126h1v1h-1zM281 126h1v1h-1zM67 127h1v1h-1zM74 127h44v1h-44zM258 127h1v1h-1zM263 127h2v1h-2zM275 127h2v1h-2zM74 128h24v1h-24zM99 128h3v1h-3zM103 128h3v1h-3zM271 128h1v1h-1zM279 128h1v1h-1zM72 129h1v1h-1zM75 129h11v1h-11zM87 129h4v1h-4zM260 129h1v1h-1zM262 129h1v1h-1zM273 129h1v1h-1zM278 129h1v1h-1zM283 129h1v1h-1zM76 130h1v1h-1zM272 130h1v1h-1zM275 130h1v1h-1zM278 130h1v1h-1zM283 130h1v1h-1zM286 130h1v1h-1zM244 131h1v1h-1zM276 131h3v1h-3zM240 132h1v1h-1zM260 132h1v1h-1zM273 132h1v1h-1zM277 132h1v1h-1zM279 132h1v1h-1zM275 133h1v1h-1zM289 133h1v1h-1zM245 134h1v1h-1zM254 134h1v1h-1zM259 134h1v1h-1zM273 134h1v1h-1zM275 134h1v1h-1zM278 134h3v1h-3zM244 135h1v1h-1zM249 135h1v1h-1zM269 135h1v1h-1zM271 135h1v1h-1zM273 135h1v1h-1zM279 135h1v1h-1zM283 135h1v1h-1zM85 262h1v1h-1zM492 262h1v1h-1zM51 265h1v1h-1zM88 274h1v1h-1zM434 274h1v1h-1zM66 276h1v1h-1zM132 276h1v1h-1zM151 276h1v1h-1zM458 276h1v1h-1zM81 277h1v1h-1zM85 277h1v1h-1zM102 277h1v1h-1zM459 277h1v1h-1zM73 278h1v1h-1zM444 278h1v1h-1zM448 278h1v1h-1zM471 278h1v1h-1zM82 279h1v1h-1zM94 279h1v1h-1zM445 279h1v1h-1zM60 280h1v1h-1zM62 280h1v1h-1zM83 280h2v1h-2zM113 280h1v1h-1zM452 280h1v1h-1zM77 281h1v1h-1zM79 281h2v1h-2zM84 281h1v1h-1zM87 281h1v1h-1zM92 281h1v1h-1zM107 281h1v1h-1zM253 281h1v1h-1zM443 281h1v1h-1zM30 282h1v1h-1zM68 282h1v1h-1zM71 282h1v1h-1zM78 282h1v1h-1zM85 282h3v1h-3zM89 282h1v1h-1zM93 282h1v1h-1zM95 282h1v1h-1zM53 283h1v1h-1zM70 283h1v1h-1zM75 283h2v1h-2zM78 283h1v1h-1zM81 283h1v1h-1zM83 283h1v1h-1zM85 283h2v1h-2zM89 283h4v1h-4zM96 283h1v1h-1zM98 283h1v1h-1zM456 283h1v1h-1zM458 283h1v1h-1zM61 284h1v1h-1zM69 284h1v1h-1zM71 284h1v1h-1zM75 284h1v1h-1zM80 284h1v1h-1zM82 284h2v1h-2zM85 284h5v1h-5zM92 284h2v1h-2zM97 284h1v1h-1zM441 284h1v1h-1zM449 284h2v1h-2zM53 285h1v1h-1zM55 285h1v1h-1zM66 285h2v1h-2zM70 285h1v1h-1zM73 285h1v1h-1zM75 285h5v1h-5zM82 285h3v1h-3zM86 285h2v1h-2zM89 285h3v1h-3zM93 285h1v1h-1zM95 285h1v1h-1zM260 285h1v1h-1zM446 285h1v1h-1zM448 285h1v1h-1zM450 285h1v1h-1zM461 285h1v1h-1zM45 286h1v1h-1zM55 286h2v1h-2zM59 286h1v1h-1zM66 286h1v1h-1zM69 286h1v1h-1zM72 286h1v1h-1zM75 286h1v1h-1zM78 286h1v1h-1zM80 286h2v1h-2zM84 286h1v1h-1zM86 286h6v1h-6zM94 286h2v1h-2zM97 286h2v1h-2zM255 286h1v1h-1zM421 286h1v1h-1zM449 286h1v1h-1zM451 286h1v1h-1zM454 286h2v1h-2zM45 287h1v1h-1zM54 287h1v1h-1zM60 287h1v1h-1zM66 287h6v1h-6zM73 287h1v1h-1zM76 287h1v1h-1zM78 287h1v1h-1zM80 287h2v1h-2zM83 287h2v1h-2zM86 287h7v1h-7zM99 287h1v1h-1zM233 287h1v1h-1zM252 287h3v1h-3zM256 287h2v1h-2zM419 287h1v1h-1zM449 287h3v1h-3zM49 288h1v1h-1zM51 288h2v1h-2zM54 288h3v1h-3zM60 288h1v1h-1zM67 288h1v1h-1zM72 288h5v1h-5zM78 288h4v1h-4zM83 288h3v1h-3zM87 288h4v1h-4zM94 288h3v1h-3zM254 288h3v1h-3zM259 288h2v1h-2zM46 289h1v1h-1zM51 289h1v1h-1zM53 289h2v1h-2zM59 289h1v1h-1zM62 289h2v1h-2zM65 289h5v1h-5zM72 289h4v1h-4zM77 289h2v1h-2zM80 289h1v1h-1zM82 289h9v1h-9zM92 289h4v1h-4zM235 289h1v1h-1zM243 289h2v1h-2zM249 289h1v1h-1zM252 289h2v1h-2zM255 289h2v1h-2zM259 289h2v1h-2zM262 289h1v1h-1zM404 289h1v1h-1zM424 289h1v1h-1zM444 289h1v1h-1zM448 289h2v1h-2zM453 289h3v1h-3zM457 289h1v1h-1zM461 289h1v1h-1zM45 290h1v1h-1zM48 290h3v1h-3zM53 290h1v1h-1zM55 290h2v1h-2zM58 290h1v1h-1zM60 290h2v1h-2zM63 290h2v1h-2zM67 290h2v1h-2zM70 290h2v1h-2zM73 290h1v1h-1zM75 290h2v1h-2zM79 290h16v1h-16zM98 290h1v1h-1zM238 290h1v1h-1zM246 290h1v1h-1zM248 290h2v1h-2zM251 290h3v1h-3zM256 290h3v1h-3zM260 290h6v1h-6zM268 290h1v1h-1zM433 290h1v1h-1zM440 290h1v1h-1zM443 290h1v1h-1zM445 290h1v1h-1zM448 290h1v1h-1zM450 290h1v1h-1zM452 290h1v1h-1zM454 290h2v1h-2zM461 290h1v1h-1zM43 291h1v1h-1zM45 291h2v1h-2zM48 291h1v1h-1zM52 291h3v1h-3zM57 291h2v1h-2zM60 291h3v1h-3zM64 291h2v1h-2zM67 291h1v1h-1zM69 291h25v1h-25zM95 291h1v1h-1zM97 291h3v1h-3zM239 291h1v1h-1zM246 291h2v1h-2zM249 291h2v1h-2zM254 291h4v1h-4zM260 291h3v1h-3zM264 291h1v1h-1zM267 291h1v1h-1zM440 291h1v1h-1zM444 291h8v1h-8zM455 291h1v1h-1zM459 291h1v1h-1zM464 291h1v1h-1zM40 292h1v1h-1zM42 292h1v1h-1zM45 292h1v1h-1zM47 292h1v1h-1zM49 292h3v1h-3zM54 292h2v1h-2zM57 292h2v1h-2zM60 292h9v1h-9zM70 292h12v1h-12zM83 292h9v1h-9zM93 292h3v1h-3zM236 292h1v1h-1zM239 292h2v1h-2zM243 292h1v1h-1zM246 292h1v1h-1zM248 292h4v1h-4zM253 292h10v1h-10zM268 292h1v1h-1zM442 292h3v1h-3zM447 292h2v1h-2zM450 292h1v1h-1zM457 292h1v1h-1zM459 292h1v1h-1zM36 293h1v1h-1zM40 293h1v1h-1zM45 293h1v1h-1zM47 293h1v1h-1zM49 293h6v1h-6zM56 293h6v1h-6zM63 293h5v1h-5zM72 293h22v1h-22zM95 293h4v1h-4zM236 293h1v1h-1zM240 293h2v1h-2zM244 293h1v1h-1zM248 293h3v1h-3zM252 293h4v1h-4zM257 293h2v1h-2zM260 293h2v1h-2zM417 293h1v1h-1zM423 293h1v1h-1zM441 293h1v1h-1zM443 293h4v1h-4zM449 293h3v1h-3zM453 293h1v1h-1zM456 293h2v1h-2zM459 293h1v1h-1zM43 294h3v1h-3zM47 294h2v1h-2zM53 294h5v1h-5zM59 294h16v1h-16zM76 294h18v1h-18zM95 294h4v1h-4zM233 294h1v1h-1zM235 294h1v1h-1zM239 294h1v1h-1zM242 294h3v1h-3zM247 294h10v1h-10zM258 294h1v1h-1zM260 294h1v1h-1zM263 294h2v1h-2zM267 294h1v1h-1zM292 294h1v1h-1zM439 294h2v1h-2zM442 294h4v1h-4zM447 294h1v1h-1zM449 294h5v1h-5zM455 294h1v1h-1zM458 294h1v1h-1zM460 294h2v1h-2zM38 295h1v1h-1zM40 295h1v1h-1zM42 295h5v1h-5zM48 295h50v1h-50zM100 295h1v1h-1zM105 295h1v1h-1zM236 295h2v1h-2zM242 295h1v1h-1zM244 295h9v1h-9zM254 295h10v1h-10zM265 295h2v1h-2zM268 295h1v1h-1zM272 295h1v1h-1zM439 295h1v1h-1zM442 295h1v1h-1zM444 295h9v1h-9zM454 295h1v1h-1zM458 295h2v1h-2zM34 296h1v1h-1zM36 296h2v1h-2zM40 296h2v1h-2zM44 296h2v1h-2zM47 296h1v1h-1zM49 296h1v1h-1zM51 296h9v1h-9zM61 296h24v1h-24zM87 296h11v1h-11zM111 296h1v1h-1zM235 296h1v1h-1zM238 296h1v1h-1zM242 296h1v1h-1zM244 296h1v1h-1zM246 296h1v1h-1zM248 296h15v1h-15zM264 296h3v1h-3zM268 296h1v1h-1zM437 296h2v1h-2zM442 296h8v1h-8zM451 296h4v1h-4zM456 296h1v1h-1zM459 296h2v1h-2zM29 297h1v1h-1zM43 297h2v1h-2zM46 297h1v1h-1zM48 297h5v1h-5zM54 297h35v1h-35zM90 297h3v1h-3zM94 297h2v1h-2zM97 297h2v1h-2zM234 297h1v1h-1zM237 297h1v1h-1zM239 297h3v1h-3zM243 297h16v1h-16zM260 297h5v1h-5zM266 297h3v1h-3zM271 297h1v1h-1zM285 297h1v1h-1zM287 297h1v1h-1zM400 297h1v1h-1zM403 297h1v1h-1zM408 297h1v1h-1zM438 297h4v1h-4zM443 297h6v1h-6zM450 297h3v1h-3zM454 297h5v1h-5zM460 297h1v1h-1zM467 297h1v1h-1zM36 298h1v1h-1zM38 298h1v1h-1zM41 298h3v1h-3zM46 298h6v1h-6zM53 298h2v1h-2zM56 298h11v1h-11zM68 298h14v1h-14zM83 298h13v1h-13zM97 298h3v1h-3zM112 298h1v1h-1zM238 298h3v1h-3zM242 298h2v1h-2zM246 298h21v1h-21zM298 298h1v1h-1zM436 298h1v1h-1zM440 298h2v1h-2zM443 298h3v1h-3zM447 298h9v1h-9zM460 298h1v1h-1zM37 299h1v1h-1zM40 299h3v1h-3zM44 299h1v1h-1zM46 299h7v1h-7zM54 299h8v1h-8zM63 299h2v1h-2zM66 299h32v1h-32zM100 299h1v1h-1zM102 299h1v1h-1zM105 299h1v1h-1zM108 299h1v1h-1zM235 299h2v1h-2zM241 299h26v1h-26zM268 299h2v1h-2zM279 299h1v1h-1zM420 299h1v1h-1zM437 299h13v1h-13zM451 299h4v1h-4zM456 299h1v1h-1zM458 299h1v1h-1zM30 300h1v1h-1zM35 300h1v1h-1zM37 300h1v1h-1zM41 300h3v1h-3zM45 300h1v1h-1zM47 300h14v1h-14zM62 300h1v1h-1zM64 300h8v1h-8zM73 300h5v1h-5zM79 300h11v1h-11zM91 300h12v1h-12zM104 300h1v1h-1zM235 300h3v1h-3zM243 300h5v1h-5zM249 300h17v1h-17zM268 300h1v1h-1zM271 300h1v1h-1zM417 300h1v1h-1zM425 300h1v1h-1zM439 300h4v1h-4zM444 300h9v1h-9zM454 300h2v1h-2zM457 300h4v1h-4zM462 300h1v1h-1zM32 301h1v1h-1zM40 301h2v1h-2zM43 301h13v1h-13zM58 301h40v1h-40zM100 301h1v1h-1zM103 301h1v1h-1zM237 301h2v1h-2zM241 301h14v1h-14zM256 301h12v1h-12zM270 301h1v1h-1zM274 301h1v1h-1zM413 301h1v1h-1zM436 301h14v1h-14zM451 301h2v1h-2zM454 301h3v1h-3zM29 302h2v1h-2zM34 302h4v1h-4zM40 302h10v1h-10zM51 302h4v1h-4zM57 302h16v1h-16zM74 302h23v1h-23zM98 302h3v1h-3zM114 302h1v1h-1zM233 302h1v1h-1zM236 302h1v1h-1zM241 302h25v1h-25zM267 302h2v1h-2zM270 302h1v1h-1zM410 302h1v1h-1zM422 302h2v1h-2zM430 302h1v1h-1zM438 302h1v1h-1zM440 302h3v1h-3zM444 302h2v1h-2zM447 302h4v1h-4zM453 302h1v1h-1zM456 302h1v1h-1zM458 302h1v1h-1zM463 302h1v1h-1zM34 303h2v1h-2zM37 303h1v1h-1zM39 303h1v1h-1zM42 303h19v1h-19zM63 303h7v1h-7zM71 303h27v1h-27zM102 303h2v1h-2zM105 303h1v1h-1zM108 303h1v1h-1zM110 303h1v1h-1zM236 303h1v1h-1zM241 303h4v1h-4zM246 303h22v1h-22zM269 303h1v1h-1zM291 303h1v1h-1zM398 303h1v1h-1zM434 303h1v1h-1zM438 303h1v1h-1zM440 303h20v1h-20zM463 303h1v1h-1zM35 304h1v1h-1zM38 304h1v1h-1zM40 304h1v1h-1zM42 304h2v1h-2zM45 304h4v1h-4zM50 304h24v1h-24zM75 304h24v1h-24zM100 304h1v1h-1zM102 304h3v1h-3zM114 304h1v1h-1zM236 304h1v1h-1zM238 304h2v1h-2zM241 304h5v1h-5zM247 304h22v1h-22zM271 304h1v1h-1zM326 304h1v1h-1zM402 304h1v1h-1zM419 304h1v1h-1zM421 304h1v1h-1zM432 304h1v1h-1zM436 304h1v1h-1zM438 304h1v1h-1zM441 304h2v1h-2zM444 304h14v1h-14zM459 304h3v1h-3zM29 305h1v1h-1zM31 305h1v1h-1zM33 305h1v1h-1zM38 305h2v1h-2zM41 305h5v1h-5zM47 305h1v1h-1zM49 305h3v1h-3zM53 305h5v1h-5zM59 305h34v1h-34zM94 305h6v1h-6zM105 305h1v1h-1zM110 305h1v1h-1zM236 305h1v1h-1zM240 305h25v1h-25zM266 305h2v1h-2zM278 305h1v1h-1zM418 305h1v1h-1zM434 305h1v1h-1zM438 305h8v1h-8zM447 305h8v1h-8zM459 305h1v1h-1zM464 305h2v1h-2zM29 306h1v1h-1zM34 306h2v1h-2zM37 306h1v1h-1zM40 306h3v1h-3zM44 306h3v1h-3zM48 306h45v1h-45zM94 306h3v1h-3zM98 306h6v1h-6zM108 306h1v1h-1zM238 306h1v1h-1zM242 306h1v1h-1zM244 306h12v1h-12zM257 306h12v1h-12zM274 306h1v1h-1zM411 306h2v1h-2zM415 306h1v1h-1zM418 306h1v1h-1zM437 306h1v1h-1zM441 306h9v1h-9zM451 306h4v1h-4zM456 306h5v1h-5zM31 307h1v1h-1zM33 307h1v1h-1zM40 307h1v1h-1zM42 307h1v1h-1zM44 307h5v1h-5zM50 307h29v1h-29zM80 307h22v1h-22zM104 307h1v1h-1zM116 307h1v1h-1zM243 307h1v1h-1zM245 307h20v1h-20zM266 307h1v1h-1zM268 307h2v1h-2zM277 307h2v1h-2zM416 307h1v1h-1zM437 307h20v1h-20zM458 307h2v1h-2zM461 307h1v1h-1zM466 307h1v1h-1zM31 308h1v1h-1zM35 308h2v1h-2zM38 308h1v1h-1zM40 308h1v1h-1zM43 308h7v1h-7zM51 308h5v1h-5zM57 308h1v1h-1zM59 308h5v1h-5zM65 308h23v1h-23zM89 308h7v1h-7zM97 308h2v1h-2zM100 308h1v1h-1zM102 308h1v1h-1zM133 308h1v1h-1zM244 308h23v1h-23zM268 308h2v1h-2zM271 308h1v1h-1zM414 308h1v1h-1zM417 308h1v1h-1zM437 308h1v1h-1zM439 308h18v1h-18zM460 308h1v1h-1zM32 309h1v1h-1zM36 309h4v1h-4zM42 309h5v1h-5zM48 309h1v1h-1zM50 309h1v1h-1zM52 309h18v1h-18zM71 309h5v1h-5zM77 309h4v1h-4zM82 309h15v1h-15zM99 309h1v1h-1zM102 309h1v1h-1zM104 309h1v1h-1zM112 309h1v1h-1zM235 309h1v1h-1zM245 309h22v1h-22zM269 309h1v1h-1zM271 309h1v1h-1zM274 309h1v1h-1zM398 309h1v1h-1zM429 309h1v1h-1zM438 309h1v1h-1zM440 309h4v1h-4zM445 309h11v1h-11zM459 309h1v1h-1zM461 309h1v1h-1zM466 309h1v1h-1zM38 310h1v1h-1zM41 310h12v1h-12zM54 310h18v1h-18zM73 310h5v1h-5zM79 310h14v1h-14zM94 310h1v1h-1zM98 310h1v1h-1zM100 310h1v1h-1zM102 310h1v1h-1zM108 310h1v1h-1zM110 310h1v1h-1zM243 310h17v1h-17zM261 310h4v1h-4zM266 310h3v1h-3zM272 310h1v1h-1zM414 310h1v1h-1zM421 310h1v1h-1zM437 310h1v1h-1zM441 310h3v1h-3zM445 310h13v1h-13zM32 311h1v1h-1zM41 311h2v1h-2zM44 311h1v1h-1zM46 311h5v1h-5zM52 311h1v1h-1zM54 311h6v1h-6zM61 311h9v1h-9zM71 311h22v1h-22zM94 311h1v1h-1zM96 311h2v1h-2zM99 311h3v1h-3zM107 311h1v1h-1zM110 311h1v1h-1zM241 311h1v1h-1zM244 311h1v1h-1zM246 311h8v1h-8zM255 311h11v1h-11zM267 311h1v1h-1zM279 311h1v1h-1zM421 311h1v1h-1zM435 311h1v1h-1zM437 311h1v1h-1zM439 311h1v1h-1zM442 311h17v1h-17zM461 311h1v1h-1zM464 311h1v1h-1zM468 311h1v1h-1zM34 312h1v1h-1zM37 312h4v1h-4zM42 312h1v1h-1zM44 312h3v1h-3zM49 312h17v1h-17zM67 312h7v1h-7zM75 312h11v1h-11zM87 312h6v1h-6zM95 312h3v1h-3zM104 312h1v1h-1zM106 312h1v1h-1zM238 312h2v1h-2zM242 312h6v1h-6zM249 312h21v1h-21zM407 312h1v1h-1zM433 312h1v1h-1zM435 312h1v1h-1zM439 312h15v1h-15zM455 312h4v1h-4zM465 312h1v1h-1zM33 313h2v1h-2zM37 313h1v1h-1zM42 313h2v1h-2zM46 313h3v1h-3zM50 313h10v1h-10zM61 313h7v1h-7zM69 313h9v1h-9zM79 313h14v1h-14zM94 313h4v1h-4zM99 313h4v1h-4zM243 313h1v1h-1zM245 313h1v1h-1zM247 313h5v1h-5zM253 313h11v1h-11zM265 313h2v1h-2zM269 313h1v1h-1zM272 313h1v1h-1zM436 313h20v1h-20zM457 313h2v1h-2zM464 313h1v1h-1zM37 314h4v1h-4zM42 314h1v1h-1zM44 314h1v1h-1zM46 314h1v1h-1zM48 314h5v1h-5zM55 314h20v1h-20zM76 314h14v1h-14zM91 314h1v1h-1zM94 314h1v1h-1zM97 314h1v1h-1zM99 314h2v1h-2zM104 314h1v1h-1zM107 314h1v1h-1zM244 314h2v1h-2zM247 314h1v1h-1zM249 314h11v1h-11zM261 314h7v1h-7zM413 314h1v1h-1zM432 314h1v1h-1zM434 314h1v1h-1zM437 314h1v1h-1zM439 314h3v1h-3zM443 314h9v1h-9zM453 314h3v1h-3zM459 314h1v1h-1zM465 314h1v1h-1zM40 315h2v1h-2zM43 315h1v1h-1zM48 315h4v1h-4zM53 315h1v1h-1zM55 315h14v1h-14zM70 315h24v1h-24zM98 315h2v1h-2zM110 315h1v1h-1zM238 315h1v1h-1zM242 315h1v1h-1zM244 315h17v1h-17zM263 315h5v1h-5zM269 315h1v1h-1zM420 315h1v1h-1zM438 315h1v1h-1zM441 315h2v1h-2zM444 315h9v1h-9zM454 315h3v1h-3zM459 315h1v1h-1zM461 315h1v1h-1zM463 315h1v1h-1zM34 316h2v1h-2zM37 316h1v1h-1zM39 316h1v1h-1zM42 316h5v1h-5zM48 316h5v1h-5zM54 316h33v1h-33zM88 316h3v1h-3zM93 316h5v1h-5zM100 316h1v1h-1zM242 316h1v1h-1zM244 316h1v1h-1zM246 316h1v1h-1zM248 316h17v1h-17zM267 316h2v1h-2zM410 316h1v1h-1zM419 316h1v1h-1zM434 316h1v1h-1zM438 316h3v1h-3zM442 316h1v1h-1zM444 316h9v1h-9zM454 316h3v1h-3zM465 316h1v1h-1zM32 317h1v1h-1zM43 317h2v1h-2zM46 317h6v1h-6zM53 317h1v1h-1zM55 317h20v1h-20zM76 317h7v1h-7zM84 317h8v1h-8zM93 317h3v1h-3zM97 317h2v1h-2zM100 317h1v1h-1zM240 317h2v1h-2zM244 317h2v1h-2zM247 317h3v1h-3zM251 317h16v1h-16zM269 317h1v1h-1zM281 317h1v1h-1zM288 317h1v1h-1zM439 317h17v1h-17zM458 317h1v1h-1zM460 317h2v1h-2zM465 317h1v1h-1zM29 318h1v1h-1zM42 318h1v1h-1zM46 318h1v1h-1zM48 318h4v1h-4zM54 318h4v1h-4zM59 318h5v1h-5zM65 318h5v1h-5zM71 318h8v1h-8zM81 318h10v1h-10zM93 318h1v1h-1zM96 318h1v1h-1zM98 318h1v1h-1zM102 318h1v1h-1zM114 318h1v1h-1zM243 318h1v1h-1zM245 318h4v1h-4zM250 318h2v1h-2zM255 318h9v1h-9zM266 318h1v1h-1zM268 318h1v1h-1zM270 318h1v1h-1zM273 318h1v1h-1zM440 318h8v1h-8zM449 318h2v1h-2zM452 318h4v1h-4zM457 318h2v1h-2zM460 318h1v1h-1zM34 319h1v1h-1zM39 319h1v1h-1zM46 319h3v1h-3zM52 319h5v1h-5zM58 319h12v1h-12zM71 319h3v1h-3zM75 319h14v1h-14zM90 319h2v1h-2zM94 319h1v1h-1zM97 319h1v1h-1zM99 319h2v1h-2zM241 319h1v1h-1zM245 319h3v1h-3zM249 319h1v1h-1zM251 319h13v1h-13zM265 319h1v1h-1zM267 319h3v1h-3zM440 319h2v1h-2zM443 319h12v1h-12zM458 319h1v1h-1zM462 319h1v1h-1zM42 320h1v1h-1zM44 320h3v1h-3zM51 320h3v1h-3zM55 320h3v1h-3zM59 320h6v1h-6zM68 320h3v1h-3zM72 320h11v1h-11zM84 320h6v1h-6zM92 320h1v1h-1zM94 320h1v1h-1zM96 320h1v1h-1zM98 320h1v1h-1zM246 320h1v1h-1zM248 320h3v1h-3zM252 320h6v1h-6zM259 320h1v1h-1zM262 320h5v1h-5zM428 320h1v1h-1zM436 320h1v1h-1zM440 320h1v1h-1zM442 320h3v1h-3zM447 320h2v1h-2zM450 320h2v1h-2zM455 320h1v1h-1zM458 320h1v1h-1zM460 320h1v1h-1zM462 320h1v1h-1zM464 320h1v1h-1zM40 321h1v1h-1zM44 321h1v1h-1zM46 321h1v1h-1zM49 321h3v1h-3zM55 321h1v1h-1zM61 321h18v1h-18zM80 321h4v1h-4zM85 321h7v1h-7zM93 321h1v1h-1zM95 321h2v1h-2zM117 321h1v1h-1zM244 321h1v1h-1zM246 321h1v1h-1zM248 321h1v1h-1zM250 321h1v1h-1zM252 321h1v1h-1zM254 321h3v1h-3zM258 321h1v1h-1zM261 321h2v1h-2zM264 321h1v1h-1zM267 321h1v1h-1zM272 321h1v1h-1zM428 321h1v1h-1zM433 321h1v1h-1zM437 321h1v1h-1zM439 321h1v1h-1zM441 321h2v1h-2zM444 321h7v1h-7zM452 321h3v1h-3zM456 321h2v1h-2zM459 321h1v1h-1zM461 321h1v1h-1zM33 322h1v1h-1zM43 322h1v1h-1zM54 322h1v1h-1zM56 322h3v1h-3zM60 322h5v1h-5zM66 322h10v1h-10zM77 322h1v1h-1zM79 322h2v1h-2zM83 322h4v1h-4zM91 322h2v1h-2zM96 322h2v1h-2zM121 322h1v1h-1zM245 322h1v1h-1zM250 322h12v1h-12zM263 322h1v1h-1zM267 322h1v1h-1zM270 322h1v1h-1zM416 322h1v1h-1zM426 322h1v1h-1zM437 322h2v1h-2zM440 322h7v1h-7zM448 322h3v1h-3zM452 322h2v1h-2zM456 322h1v1h-1zM461 322h3v1h-3zM42 323h1v1h-1zM46 323h1v1h-1zM53 323h1v1h-1zM58 323h1v1h-1zM63 323h1v1h-1zM65 323h2v1h-2zM68 323h5v1h-5zM74 323h1v1h-1zM76 323h3v1h-3zM80 323h1v1h-1zM82 323h1v1h-1zM84 323h4v1h-4zM89 323h2v1h-2zM94 323h1v1h-1zM97 323h1v1h-1zM104 323h1v1h-1zM129 323h1v1h-1zM247 323h1v1h-1zM251 323h4v1h-4zM256 323h8v1h-8zM439 323h1v1h-1zM441 323h1v1h-1zM443 323h10v1h-10zM454 323h3v1h-3zM458 323h1v1h-1zM460 323h2v1h-2zM39 324h1v1h-1zM43 324h1v1h-1zM49 324h1v1h-1zM53 324h2v1h-2zM56 324h1v1h-1zM58 324h2v1h-2zM62 324h2v1h-2zM68 324h5v1h-5zM75 324h10v1h-10zM86 324h1v1h-1zM89 324h1v1h-1zM92 324h1v1h-1zM95 324h2v1h-2zM99 324h1v1h-1zM115 324h1v1h-1zM246 324h1v1h-1zM248 324h8v1h-8zM257 324h3v1h-3zM262 324h2v1h-2zM402 324h1v1h-1zM439 324h5v1h-5zM445 324h2v1h-2zM448 324h3v1h-3zM452 324h2v1h-2zM455 324h1v1h-1zM459 324h2v1h-2zM478 324h1v1h-1zM54 325h3v1h-3zM60 325h2v1h-2zM67 325h6v1h-6zM74 325h1v1h-1zM78 325h4v1h-4zM85 325h4v1h-4zM91 325h1v1h-1zM98 325h1v1h-1zM113 325h1v1h-1zM249 325h3v1h-3zM253 325h1v1h-1zM255 325h1v1h-1zM258 325h1v1h-1zM261 325h1v1h-1zM264 325h1v1h-1zM268 325h1v1h-1zM438 325h1v1h-1zM442 325h12v1h-12zM456 325h2v1h-2zM465 325h1v1h-1zM62 326h1v1h-1zM64 326h1v1h-1zM75 326h1v1h-1zM77 326h1v1h-1zM79 326h1v1h-1zM82 326h1v1h-1zM84 326h1v1h-1zM86 326h3v1h-3zM90 326h5v1h-5zM245 326h1v1h-1zM254 326h1v1h-1zM256 326h1v1h-1zM258 326h2v1h-2zM444 326h5v1h-5zM450 326h1v1h-1zM452 326h2v1h-2zM459 326h2v1h-2zM64 327h2v1h-2zM69 327h1v1h-1zM71 327h5v1h-5zM80 327h1v1h-1zM82 327h1v1h-1zM88 327h1v1h-1zM93 327h1v1h-1zM246 327h1v1h-1zM250 327h1v1h-1zM252 327h5v1h-5zM258 327h2v1h-2zM261 327h1v1h-1zM441 327h3v1h-3zM446 327h1v1h-1zM448 327h1v1h-1zM450 327h1v1h-1zM454 327h1v1h-1zM461 327h1v1h-1zM463 327h1v1h-1zM469 327h1v1h-1zM47 328h1v1h-1zM50 328h1v1h-1zM68 328h1v1h-1zM72 328h1v1h-1zM77 328h1v1h-1zM79 328h1v1h-1zM81 328h1v1h-1zM86 328h1v1h-1zM88 328h1v1h-1zM94 328h1v1h-1zM109 328h1v1h-1zM119 328h1v1h-1zM251 328h2v1h-2zM255 328h1v1h-1zM259 328h1v1h-1zM411 328h1v1h-1zM440 328h1v1h-1zM443 328h1v1h-1zM447 328h3v1h-3zM452 328h1v1h-1zM454 328h2v1h-2zM458 328h3v1h-3zM463 328h2v1h-2zM66 329h1v1h-1zM69 329h1v1h-1zM74 329h1v1h-1zM84 329h2v1h-2zM88 329h2v1h-2zM92 329h1v1h-1zM105 329h1v1h-1zM244 329h1v1h-1zM253 329h1v1h-1zM259 329h1v1h-1zM265 329h1v1h-1zM442 329h1v1h-1zM444 329h2v1h-2zM447 329h2v1h-2zM452 329h1v1h-1zM454 329h1v1h-1zM457 329h1v1h-1zM66 330h1v1h-1zM75 330h1v1h-1zM82 330h1v1h-1zM93 330h1v1h-1zM97 330h1v1h-1zM255 330h1v1h-1zM257 330h1v1h-1zM441 330h1v1h-1zM444 330h3v1h-3zM448 330h1v1h-1zM450 330h1v1h-1zM455 330h1v1h-1zM457 330h1v1h-1zM459 330h1v1h-1zM68 331h1v1h-1zM72 331h1v1h-1zM92 331h1v1h-1zM100 331h1v1h-1zM104 331h1v1h-1zM257 331h1v1h-1zM441 331h2v1h-2zM444 331h1v1h-1zM446 331h3v1h-3zM458 331h1v1h-1zM460 331h1v1h-1zM66 332h1v1h-1zM69 332h1v1h-1zM72 332h3v1h-3zM77 332h1v1h-1zM81 332h1v1h-1zM253 332h1v1h-1zM257 332h1v1h-1zM260 332h1v1h-1zM440 332h1v1h-1zM443 332h1v1h-1zM445 332h1v1h-1zM447 332h1v1h-1zM449 332h2v1h-2zM453 332h1v1h-1zM460 332h1v1h-1zM462 332h1v1h-1zM38 333h1v1h-1zM69 333h1v1h-1zM71 333h1v1h-1zM91 333h1v1h-1zM267 333h1v1h-1zM438 333h1v1h-1zM446 333h1v1h-1zM448 333h1v1h-1zM451 333h2v1h-2zM455 333h1v1h-1zM460 333h1v1h-1zM42 334h1v1h-1zM77 334h1v1h-1zM87 334h1v1h-1zM440 334h1v1h-1zM446 334h1v1h-1zM449 334h1v1h-1zM453 334h1v1h-1zM457 334h1v1h-1zM90 335h1v1h-1zM267 335h1v1h-1zM445 335h1v1h-1zM447 335h1v1h-1zM449 335h2v1h-2zM442 336h1v1h-1zM450 336h1v1h-1zM452 336h2v1h-2zM455 336h1v1h-1zM74 337h1v1h-1zM452 337h2v1h-2zM458 337h1v1h-1zM436 338h1v1h-1zM448 338h1v1h-1zM455 338h4v1h-4zM445 339h1v1h-1zM449 339h2v1h-2zM456 340h1v1h-1zM464 340h1v1h-1zM50 341h1v1h-1zM447 342h1v1h-1zM458 344h1v1h-1zM114 345h1v1h-1zM455 345h1v1h-1zM467 345h1v1h-1zM40 346h1v1h-1zM140 346h1v1h-1zM448 346h1v1h-1zM53 348h1v1h-1zM468 352h1v1h-1zM73 353h1v1h-1z" fill="#000"/><line x1="0.00" y1="192.00" x2="520.00" y2="192.00" stroke="#000" stroke-width="1.4"/><line x1="184.00" y1="192.00" x2="184.00" y2="381.00" stroke="#2a2a2a" stroke-width="1.6"/><text x="5.20" y="14.20" font-size="16.5" font-weight="bold" text-anchor="start">A</text><text x="0.20" y="225.40" font-size="17" font-weight="bold" text-anchor="start">B</text><text x="206.30" y="225.80" font-size="17" font-weight="bold" text-anchor="start">C</text><text x="59.80" y="225.60" font-size="12.9" font-weight="bold" text-anchor="start">Presort</text><text x="335.50" y="225.40" font-size="12.8" font-weight="bold" text-anchor="start">Postsort</text><path d="M39.60 25.00H162.60" stroke="#444" stroke-width="1.1" fill="none"/><path d="M162.60 24.50V136.80" stroke="#444" stroke-width="1.2" fill="none"/><path d="M39.60 24.50V136.80H163.20" stroke="#111" stroke-width="1.3" fill="none"/><line x1="40.73" y1="136.80" x2="40.73" y2="140.60" stroke="#111" stroke-width="1.2"/><line x1="39.60" y1="135.80" x2="35.80" y2="135.80" stroke="#111" stroke-width="1.2"/><line x1="45.50" y1="136.80" x2="45.50" y2="138.80" stroke="#111" stroke-width="1.2"/><line x1="39.60" y1="131.47" x2="37.60" y2="131.47" stroke="#111" stroke-width="1.2"/><line x1="50.27" y1="136.80" x2="50.27" y2="138.80" stroke="#111" stroke-width="1.2"/><line x1="39.60" y1="127.14" x2="37.60" y2="127.14" stroke="#111" stroke-width="1.2"/><line x1="55.03" y1="136.80" x2="55.03" y2="138.80" stroke="#111" stroke-width="1.2"/><line x1="39.60" y1="122.82" x2="37.60" y2="122.82" stroke="#111" stroke-width="1.2"/><line x1="59.80" y1="136.80" x2="59.80" y2="138.80" stroke="#111" stroke-width="1.2"/><line x1="39.60" y1="118.49" x2="37.60" y2="118.49" stroke="#111" stroke-width="1.2"/><line x1="64.57" y1="136.80" x2="64.57" y2="140.60" stroke="#111" stroke-width="1.2"/><line x1="39.60" y1="114.16" x2="35.80" y2="114.16" stroke="#111" stroke-width="1.2"/><line x1="69.34" y1="136.80" x2="69.34" y2="138.80" stroke="#111" stroke-width="1.2"/><line x1="39.60" y1="109.83" x2="37.60" y2="109.83" stroke="#111" stroke-width="1.2"/><line x1="74.11" y1="136.80" x2="74.11" y2="138.80" stroke="#111" stroke-width="1.2"/><line x1="39.60" y1="105.50" x2="37.60" y2="105.50" stroke="#111" stroke-width="1.2"/><line x1="78.87" y1="136.80" x2="78.87" y2="138.80" stroke="#111" stroke-width="1.2"/><line x1="39.60" y1="101.18" x2="37.60" y2="101.18" stroke="#111" stroke-width="1.2"/><line x1="83.64" y1="136.80" x2="83.64" y2="138.80" stroke="#111" stroke-width="1.2"/><line x1="39.60" y1="96.85" x2="37.60" y2="96.85" stroke="#111" stroke-width="1.2"/><line x1="88.41" y1="136.80" x2="88.41" y2="140.60" stroke="#111" stroke-width="1.2"/><line x1="39.60" y1="92.52" x2="35.80" y2="92.52" stroke="#111" stroke-width="1.2"/><line x1="93.18" y1="136.80" x2="93.18" y2="138.80" stroke="#111" stroke-width="1.2"/><line x1="39.60" y1="88.19" x2="37.60" y2="88.19" stroke="#111" stroke-width="1.2"/><line x1="97.95" y1="136.80" x2="97.95" y2="138.80" stroke="#111" stroke-width="1.2"/><line x1="39.60" y1="83.86" x2="37.60" y2="83.86" stroke="#111" stroke-width="1.2"/><line x1="102.71" y1="136.80" x2="102.71" y2="138.80" stroke="#111" stroke-width="1.2"/><line x1="39.60" y1="79.54" x2="37.60" y2="79.54" stroke="#111" stroke-width="1.2"/><line x1="107.48" y1="136.80" x2="107.48" y2="138.80" stroke="#111" stroke-width="1.2"/><line x1="39.60" y1="75.21" x2="37.60" y2="75.21" stroke="#111" stroke-width="1.2"/><line x1="112.25" y1="136.80" x2="112.25" y2="140.60" stroke="#111" stroke-width="1.2"/><line x1="39.60" y1="70.88" x2="35.80" y2="70.88" stroke="#111" stroke-width="1.2"/><line x1="117.02" y1="136.80" x2="117.02" y2="138.80" stroke="#111" stroke-width="1.2"/><line x1="39.60" y1="66.55" x2="37.60" y2="66.55" stroke="#111" stroke-width="1.2"/><line x1="121.79" y1="136.80" x2="121.79" y2="138.80" stroke="#111" stroke-width="1.2"/><line x1="39.60" y1="62.22" x2="37.60" y2="62.22" stroke="#111" stroke-width="1.2"/><line x1="126.55" y1="136.80" x2="126.55" y2="138.80" stroke="#111" stroke-width="1.2"/><line x1="39.60" y1="57.90" x2="37.60" y2="57.90" stroke="#111" stroke-width="1.2"/><line x1="131.32" y1="136.80" x2="131.32" y2="138.80" stroke="#111" stroke-width="1.2"/><line x1="39.60" y1="53.57" x2="37.60" y2="53.57" stroke="#111" stroke-width="1.2"/><line x1="136.09" y1="136.80" x2="136.09" y2="140.60" stroke="#111" stroke-width="1.2"/><line x1="39.60" y1="49.24" x2="35.80" y2="49.24" stroke="#111" stroke-width="1.2"/><line x1="140.86" y1="136.80" x2="140.86" y2="138.80" stroke="#111" stroke-width="1.2"/><line x1="39.60" y1="44.91" x2="37.60" y2="44.91" stroke="#111" stroke-width="1.2"/><line x1="145.63" y1="136.80" x2="145.63" y2="138.80" stroke="#111" stroke-width="1.2"/><line x1="39.60" y1="40.58" x2="37.60" y2="40.58" stroke="#111" stroke-width="1.2"/><line x1="150.39" y1="136.80" x2="150.39" y2="138.80" stroke="#111" stroke-width="1.2"/><line x1="39.60" y1="36.26" x2="37.60" y2="36.26" stroke="#111" stroke-width="1.2"/><line x1="155.16" y1="136.80" x2="155.16" y2="138.80" stroke="#111" stroke-width="1.2"/><line x1="39.60" y1="31.93" x2="37.60" y2="31.93" stroke="#111" stroke-width="1.2"/><line x1="159.93" y1="136.80" x2="159.93" y2="140.60" stroke="#111" stroke-width="1.2"/><line x1="39.60" y1="27.60" x2="35.80" y2="27.60" stroke="#111" stroke-width="1.2"/><text transform="translate(41.33,148.00) scale(0.87,1)" font-size="9" text-anchor="middle" stroke="#111" stroke-width="0.3">0</text><text transform="translate(32.60,135.80) rotate(-90) scale(0.87,1)" font-size="9" text-anchor="middle" stroke="#111" stroke-width="0.3">0</text><text transform="translate(65.17,148.00) scale(0.87,1)" font-size="9" text-anchor="middle" stroke="#111" stroke-width="0.3">50</text><text transform="translate(32.60,114.16) rotate(-90) scale(0.87,1)" font-size="9" text-anchor="middle" stroke="#111" stroke-width="0.3">50</text><text transform="translate(89.01,148.00) scale(0.87,1)" font-size="9" text-anchor="middle" stroke="#111" stroke-width="0.3">100</text><text transform="translate(32.60,92.52) rotate(-90) scale(0.87,1)" font-size="9" text-anchor="middle" stroke="#111" stroke-width="0.3">100</text><text transform="translate(112.85,148.00) scale(0.87,1)" font-size="9" text-anchor="middle" stroke="#111" stroke-width="0.3">150</text><text transform="translate(32.60,70.88) rotate(-90) scale(0.87,1)" font-size="9" text-anchor="middle" stroke="#111" stroke-width="0.3">150</text><text transform="translate(136.69,148.00) scale(0.87,1)" font-size="9" text-anchor="middle" stroke="#111" stroke-width="0.3">200</text><text transform="translate(32.60,49.24) rotate(-90) scale(0.87,1)" font-size="9" text-anchor="middle" stroke="#111" stroke-width="0.3">200</text><text transform="translate(160.53,148.00) scale(0.87,1)" font-size="9" text-anchor="middle" stroke="#111" stroke-width="0.3">250</text><text transform="translate(32.60,27.60) rotate(-90) scale(0.87,1)" font-size="9" text-anchor="middle" stroke="#111" stroke-width="0.3">250</text><text transform="translate(99.60,158.30) scale(0.87,1)" font-size="9" font-weight="bold" text-anchor="middle">Forward Scatter</text><text transform="translate(23.60,82.20) rotate(-90) scale(0.87,1)" font-size="9" font-weight="bold" text-anchor="middle">Side Scatter</text><text transform="translate(49.30,126.00) scale(0.87,1)" font-size="9" text-anchor="start" stroke="#111" stroke-width="0.3">R1</text><polyline points="73.7,125.3 73.7,131.2 159.2,131.2 159.2,100.8 73.7,125.3" fill="none" stroke="#111" stroke-width="1.2"/><path d="M216.40 25.00H337.40" stroke="#444" stroke-width="1.1" fill="none"/><path d="M337.40 24.50V136.50" stroke="#444" stroke-width="1.2" fill="none"/><path d="M216.40 24.50V136.50H338.00" stroke="#111" stroke-width="1.3" fill="none"/><line x1="216.40" y1="136.50" x2="216.40" y2="140.10" stroke="#111" stroke-width="1.2"/><line x1="225.51" y1="136.50" x2="225.51" y2="138.50" stroke="#111" stroke-width="1.2"/><line x1="230.83" y1="136.50" x2="230.83" y2="138.50" stroke="#111" stroke-width="1.2"/><line x1="234.61" y1="136.50" x2="234.61" y2="138.50" stroke="#111" stroke-width="1.2"/><line x1="237.54" y1="136.50" x2="237.54" y2="138.50" stroke="#111" stroke-width="1.2"/><line x1="239.94" y1="136.50" x2="239.94" y2="138.50" stroke="#111" stroke-width="1.2"/><line x1="241.96" y1="136.50" x2="241.96" y2="138.50" stroke="#111" stroke-width="1.2"/><line x1="243.72" y1="136.50" x2="243.72" y2="138.50" stroke="#111" stroke-width="1.2"/><line x1="245.27" y1="136.50" x2="245.27" y2="138.50" stroke="#111" stroke-width="1.2"/><line x1="246.65" y1="136.50" x2="246.65" y2="140.10" stroke="#111" stroke-width="1.2"/><line x1="255.76" y1="136.50" x2="255.76" y2="138.50" stroke="#111" stroke-width="1.2"/><line x1="261.08" y1="136.50" x2="261.08" y2="138.50" stroke="#111" stroke-width="1.2"/><line x1="264.86" y1="136.50" x2="264.86" y2="138.50" stroke="#111" stroke-width="1.2"/><line x1="267.79" y1="136.50" x2="267.79" y2="138.50" stroke="#111" stroke-width="1.2"/><line x1="270.19" y1="136.50" x2="270.19" y2="138.50" stroke="#111" stroke-width="1.2"/><line x1="272.21" y1="136.50" x2="272.21" y2="138.50" stroke="#111" stroke-width="1.2"/><line x1="273.97" y1="136.50" x2="273.97" y2="138.50" stroke="#111" stroke-width="1.2"/><line x1="275.52" y1="136.50" x2="275.52" y2="138.50" stroke="#111" stroke-width="1.2"/><line x1="276.90" y1="136.50" x2="276.90" y2="140.10" stroke="#111" stroke-width="1.2"/><line x1="286.01" y1="136.50" x2="286.01" y2="138.50" stroke="#111" stroke-width="1.2"/><line x1="291.33" y1="136.50" x2="291.33" y2="138.50" stroke="#111" stroke-width="1.2"/><line x1="295.11" y1="136.50" x2="295.11" y2="138.50" stroke="#111" stroke-width="1.2"/><line x1="298.04" y1="136.50" x2="298.04" y2="138.50" stroke="#111" stroke-width="1.2"/><line x1="300.44" y1="136.50" x2="300.44" y2="138.50" stroke="#111" stroke-width="1.2"/><line x1="302.46" y1="136.50" x2="302.46" y2="138.50" stroke="#111" stroke-width="1.2"/><line x1="304.22" y1="136.50" x2="304.22" y2="138.50" stroke="#111" stroke-width="1.2"/><line x1="305.77" y1="136.50" x2="305.77" y2="138.50" stroke="#111" stroke-width="1.2"/><line x1="307.15" y1="136.50" x2="307.15" y2="140.10" stroke="#111" stroke-width="1.2"/><line x1="316.26" y1="136.50" x2="316.26" y2="138.50" stroke="#111" stroke-width="1.2"/><line x1="321.58" y1="136.50" x2="321.58" y2="138.50" stroke="#111" stroke-width="1.2"/><line x1="325.36" y1="136.50" x2="325.36" y2="138.50" stroke="#111" stroke-width="1.2"/><line x1="328.29" y1="136.50" x2="328.29" y2="138.50" stroke="#111" stroke-width="1.2"/><line x1="330.69" y1="136.50" x2="330.69" y2="138.50" stroke="#111" stroke-width="1.2"/><line x1="332.71" y1="136.50" x2="332.71" y2="138.50" stroke="#111" stroke-width="1.2"/><line x1="334.47" y1="136.50" x2="334.47" y2="138.50" stroke="#111" stroke-width="1.2"/><line x1="336.02" y1="136.50" x2="336.02" y2="138.50" stroke="#111" stroke-width="1.2"/><line x1="337.40" y1="136.50" x2="337.40" y2="140.10" stroke="#111" stroke-width="1.2"/><line x1="216.40" y1="136.50" x2="212.80" y2="136.50" stroke="#111" stroke-width="1.2"/><line x1="216.40" y1="128.11" x2="214.40" y2="128.11" stroke="#111" stroke-width="1.2"/><line x1="216.40" y1="123.20" x2="214.40" y2="123.20" stroke="#111" stroke-width="1.2"/><line x1="216.40" y1="119.72" x2="214.40" y2="119.72" stroke="#111" stroke-width="1.2"/><line x1="216.40" y1="117.02" x2="214.40" y2="117.02" stroke="#111" stroke-width="1.2"/><line x1="216.40" y1="114.81" x2="214.40" y2="114.81" stroke="#111" stroke-width="1.2"/><line x1="216.40" y1="112.94" x2="214.40" y2="112.94" stroke="#111" stroke-width="1.2"/><line x1="216.40" y1="111.33" x2="214.40" y2="111.33" stroke="#111" stroke-width="1.2"/><line x1="216.40" y1="109.90" x2="214.40" y2="109.90" stroke="#111" stroke-width="1.2"/><line x1="216.40" y1="108.62" x2="212.80" y2="108.62" stroke="#111" stroke-width="1.2"/><line x1="216.40" y1="100.23" x2="214.40" y2="100.23" stroke="#111" stroke-width="1.2"/><line x1="216.40" y1="95.33" x2="214.40" y2="95.33" stroke="#111" stroke-width="1.2"/><line x1="216.40" y1="91.84" x2="214.40" y2="91.84" stroke="#111" stroke-width="1.2"/><line x1="216.40" y1="89.14" x2="214.40" y2="89.14" stroke="#111" stroke-width="1.2"/><line x1="216.40" y1="86.93" x2="214.40" y2="86.93" stroke="#111" stroke-width="1.2"/><line x1="216.40" y1="85.07" x2="214.40" y2="85.07" stroke="#111" stroke-width="1.2"/><line x1="216.40" y1="83.45" x2="214.40" y2="83.45" stroke="#111" stroke-width="1.2"/><line x1="216.40" y1="82.03" x2="214.40" y2="82.03" stroke="#111" stroke-width="1.2"/><line x1="216.40" y1="80.75" x2="212.80" y2="80.75" stroke="#111" stroke-width="1.2"/><line x1="216.40" y1="72.36" x2="214.40" y2="72.36" stroke="#111" stroke-width="1.2"/><line x1="216.40" y1="67.45" x2="214.40" y2="67.45" stroke="#111" stroke-width="1.2"/><line x1="216.40" y1="63.97" x2="214.40" y2="63.97" stroke="#111" stroke-width="1.2"/><line x1="216.40" y1="61.27" x2="214.40" y2="61.27" stroke="#111" stroke-width="1.2"/><line x1="216.40" y1="59.06" x2="214.40" y2="59.06" stroke="#111" stroke-width="1.2"/><line x1="216.40" y1="57.19" x2="214.40" y2="57.19" stroke="#111" stroke-width="1.2"/><line x1="216.40" y1="55.58" x2="214.40" y2="55.58" stroke="#111" stroke-width="1.2"/><line x1="216.40" y1="54.15" x2="214.40" y2="54.15" stroke="#111" stroke-width="1.2"/><line x1="216.40" y1="52.88" x2="212.80" y2="52.88" stroke="#111" stroke-width="1.2"/><line x1="216.40" y1="44.48" x2="214.40" y2="44.48" stroke="#111" stroke-width="1.2"/><line x1="216.40" y1="39.58" x2="214.40" y2="39.58" stroke="#111" stroke-width="1.2"/><line x1="216.40" y1="36.09" x2="214.40" y2="36.09" stroke="#111" stroke-width="1.2"/><line x1="216.40" y1="33.39" x2="214.40" y2="33.39" stroke="#111" stroke-width="1.2"/><line x1="216.40" y1="31.18" x2="214.40" y2="31.18" stroke="#111" stroke-width="1.2"/><line x1="216.40" y1="29.32" x2="214.40" y2="29.32" stroke="#111" stroke-width="1.2"/><line x1="216.40" y1="27.70" x2="214.40" y2="27.70" stroke="#111" stroke-width="1.2"/><line x1="216.40" y1="26.28" x2="214.40" y2="26.28" stroke="#111" stroke-width="1.2"/><line x1="216.40" y1="25.00" x2="212.80" y2="25.00" stroke="#111" stroke-width="1.2"/><text transform="translate(215.60,149.80) scale(0.87,1)" font-size="9" text-anchor="middle" stroke="#111" stroke-width="0.3">10<tspan dx="0.5" dy="-4.8" font-size="7.5">0</tspan></text><text transform="translate(245.85,149.80) scale(0.87,1)" font-size="9" text-anchor="middle" stroke="#111" stroke-width="0.3">10<tspan dx="0.5" dy="-4.8" font-size="7.5">1</tspan></text><text transform="translate(276.10,149.80) scale(0.87,1)" font-size="9" text-anchor="middle" stroke="#111" stroke-width="0.3">10<tspan dx="0.5" dy="-4.8" font-size="7.5">2</tspan></text><text transform="translate(306.35,149.80) scale(0.87,1)" font-size="9" text-anchor="middle" stroke="#111" stroke-width="0.3">10<tspan dx="0.5" dy="-4.8" font-size="7.5">3</tspan></text><text transform="translate(336.60,149.80) scale(0.87,1)" font-size="9" text-anchor="middle" stroke="#111" stroke-width="0.3">10<tspan dx="0.5" dy="-4.8" font-size="7.5">4</tspan></text><text transform="translate(209.40,135.90) rotate(-90) scale(0.87,1)" font-size="9" text-anchor="middle" stroke="#111" stroke-width="0.3">10<tspan dx="0.5" dy="-4.8" font-size="7.5">0</tspan></text><text transform="translate(209.40,108.03) rotate(-90) scale(0.87,1)" font-size="9" text-anchor="middle" stroke="#111" stroke-width="0.3">10<tspan dx="0.5" dy="-4.8" font-size="7.5">1</tspan></text><text transform="translate(209.40,80.15) rotate(-90) scale(0.87,1)" font-size="9" text-anchor="middle" stroke="#111" stroke-width="0.3">10<tspan dx="0.5" dy="-4.8" font-size="7.5">2</tspan></text><text transform="translate(209.40,52.27) rotate(-90) scale(0.87,1)" font-size="9" text-anchor="middle" stroke="#111" stroke-width="0.3">10<tspan dx="0.5" dy="-4.8" font-size="7.5">3</tspan></text><text transform="translate(209.40,24.40) rotate(-90) scale(0.87,1)" font-size="9" text-anchor="middle" stroke="#111" stroke-width="0.3">10<tspan dx="0.5" dy="-4.8" font-size="7.5">4</tspan></text><text transform="translate(276.40,158.30) scale(0.87,1)" font-size="9" text-anchor="middle" stroke="#111" stroke-width="0.3">CD45 PE-Cy5</text><text transform="translate(199.20,82.00) rotate(-90) scale(0.87,1)" font-size="9" text-anchor="middle" stroke="#111" stroke-width="0.3">CD34 PE</text><text transform="translate(240.40,41.60) scale(0.87,1)" font-size="9" text-anchor="start" stroke="#111" stroke-width="0.3">R2</text><polygon points="225.4,46.2 273.3,46.2 273.3,93.2 257.5,109.0 235.5,109.0 225.4,93.2" fill="none" stroke="#111" stroke-width="1.2"/><path d="M392.30 25.30H513.40" stroke="#444" stroke-width="1.1" fill="none"/><path d="M513.40 24.80V137.00" stroke="#444" stroke-width="1.2" fill="none"/><path d="M392.30 24.80V137.00H514.00" stroke="#111" stroke-width="1.3" fill="none"/><line x1="392.30" y1="137.00" x2="392.30" y2="140.60" stroke="#111" stroke-width="1.2"/><line x1="401.41" y1="137.00" x2="401.41" y2="139.00" stroke="#111" stroke-width="1.2"/><line x1="406.74" y1="137.00" x2="406.74" y2="139.00" stroke="#111" stroke-width="1.2"/><line x1="410.53" y1="137.00" x2="410.53" y2="139.00" stroke="#111" stroke-width="1.2"/><line x1="413.46" y1="137.00" x2="413.46" y2="139.00" stroke="#111" stroke-width="1.2"/><line x1="415.86" y1="137.00" x2="415.86" y2="139.00" stroke="#111" stroke-width="1.2"/><line x1="417.89" y1="137.00" x2="417.89" y2="139.00" stroke="#111" stroke-width="1.2"/><line x1="419.64" y1="137.00" x2="419.64" y2="139.00" stroke="#111" stroke-width="1.2"/><line x1="421.19" y1="137.00" x2="421.19" y2="139.00" stroke="#111" stroke-width="1.2"/><line x1="422.57" y1="137.00" x2="422.57" y2="140.60" stroke="#111" stroke-width="1.2"/><line x1="431.69" y1="137.00" x2="431.69" y2="139.00" stroke="#111" stroke-width="1.2"/><line x1="437.02" y1="137.00" x2="437.02" y2="139.00" stroke="#111" stroke-width="1.2"/><line x1="440.80" y1="137.00" x2="440.80" y2="139.00" stroke="#111" stroke-width="1.2"/><line x1="443.74" y1="137.00" x2="443.74" y2="139.00" stroke="#111" stroke-width="1.2"/><line x1="446.13" y1="137.00" x2="446.13" y2="139.00" stroke="#111" stroke-width="1.2"/><line x1="448.16" y1="137.00" x2="448.16" y2="139.00" stroke="#111" stroke-width="1.2"/><line x1="449.92" y1="137.00" x2="449.92" y2="139.00" stroke="#111" stroke-width="1.2"/><line x1="451.46" y1="137.00" x2="451.46" y2="139.00" stroke="#111" stroke-width="1.2"/><line x1="452.85" y1="137.00" x2="452.85" y2="140.60" stroke="#111" stroke-width="1.2"/><line x1="461.96" y1="137.00" x2="461.96" y2="139.00" stroke="#111" stroke-width="1.2"/><line x1="467.29" y1="137.00" x2="467.29" y2="139.00" stroke="#111" stroke-width="1.2"/><line x1="471.08" y1="137.00" x2="471.08" y2="139.00" stroke="#111" stroke-width="1.2"/><line x1="474.01" y1="137.00" x2="474.01" y2="139.00" stroke="#111" stroke-width="1.2"/><line x1="476.41" y1="137.00" x2="476.41" y2="139.00" stroke="#111" stroke-width="1.2"/><line x1="478.44" y1="137.00" x2="478.44" y2="139.00" stroke="#111" stroke-width="1.2"/><line x1="480.19" y1="137.00" x2="480.19" y2="139.00" stroke="#111" stroke-width="1.2"/><line x1="481.74" y1="137.00" x2="481.74" y2="139.00" stroke="#111" stroke-width="1.2"/><line x1="483.12" y1="137.00" x2="483.12" y2="140.60" stroke="#111" stroke-width="1.2"/><line x1="492.24" y1="137.00" x2="492.24" y2="139.00" stroke="#111" stroke-width="1.2"/><line x1="497.57" y1="137.00" x2="497.57" y2="139.00" stroke="#111" stroke-width="1.2"/><line x1="501.35" y1="137.00" x2="501.35" y2="139.00" stroke="#111" stroke-width="1.2"/><line x1="504.29" y1="137.00" x2="504.29" y2="139.00" stroke="#111" stroke-width="1.2"/><line x1="506.68" y1="137.00" x2="506.68" y2="139.00" stroke="#111" stroke-width="1.2"/><line x1="508.71" y1="137.00" x2="508.71" y2="139.00" stroke="#111" stroke-width="1.2"/><line x1="510.47" y1="137.00" x2="510.47" y2="139.00" stroke="#111" stroke-width="1.2"/><line x1="512.01" y1="137.00" x2="512.01" y2="139.00" stroke="#111" stroke-width="1.2"/><line x1="513.40" y1="137.00" x2="513.40" y2="140.60" stroke="#111" stroke-width="1.2"/><line x1="392.30" y1="137.00" x2="388.70" y2="137.00" stroke="#111" stroke-width="1.2"/><line x1="392.30" y1="128.59" x2="390.30" y2="128.59" stroke="#111" stroke-width="1.2"/><line x1="392.30" y1="123.68" x2="390.30" y2="123.68" stroke="#111" stroke-width="1.2"/><line x1="392.30" y1="120.19" x2="390.30" y2="120.19" stroke="#111" stroke-width="1.2"/><line x1="392.30" y1="117.48" x2="390.30" y2="117.48" stroke="#111" stroke-width="1.2"/><line x1="392.30" y1="115.27" x2="390.30" y2="115.27" stroke="#111" stroke-width="1.2"/><line x1="392.30" y1="113.40" x2="390.30" y2="113.40" stroke="#111" stroke-width="1.2"/><line x1="392.30" y1="111.78" x2="390.30" y2="111.78" stroke="#111" stroke-width="1.2"/><line x1="392.30" y1="110.35" x2="390.30" y2="110.35" stroke="#111" stroke-width="1.2"/><line x1="392.30" y1="109.08" x2="388.70" y2="109.08" stroke="#111" stroke-width="1.2"/><line x1="392.30" y1="100.67" x2="390.30" y2="100.67" stroke="#111" stroke-width="1.2"/><line x1="392.30" y1="95.75" x2="390.30" y2="95.75" stroke="#111" stroke-width="1.2"/><line x1="392.30" y1="92.26" x2="390.30" y2="92.26" stroke="#111" stroke-width="1.2"/><line x1="392.30" y1="89.56" x2="390.30" y2="89.56" stroke="#111" stroke-width="1.2"/><line x1="392.30" y1="87.35" x2="390.30" y2="87.35" stroke="#111" stroke-width="1.2"/><line x1="392.30" y1="85.48" x2="390.30" y2="85.48" stroke="#111" stroke-width="1.2"/><line x1="392.30" y1="83.86" x2="390.30" y2="83.86" stroke="#111" stroke-width="1.2"/><line x1="392.30" y1="82.43" x2="390.30" y2="82.43" stroke="#111" stroke-width="1.2"/><line x1="392.30" y1="81.15" x2="388.70" y2="81.15" stroke="#111" stroke-width="1.2"/><line x1="392.30" y1="72.74" x2="390.30" y2="72.74" stroke="#111" stroke-width="1.2"/><line x1="392.30" y1="67.83" x2="390.30" y2="67.83" stroke="#111" stroke-width="1.2"/><line x1="392.30" y1="64.34" x2="390.30" y2="64.34" stroke="#111" stroke-width="1.2"/><line x1="392.30" y1="61.63" x2="390.30" y2="61.63" stroke="#111" stroke-width="1.2"/><line x1="392.30" y1="59.42" x2="390.30" y2="59.42" stroke="#111" stroke-width="1.2"/><line x1="392.30" y1="57.55" x2="390.30" y2="57.55" stroke="#111" stroke-width="1.2"/><line x1="392.30" y1="55.93" x2="390.30" y2="55.93" stroke="#111" stroke-width="1.2"/><line x1="392.30" y1="54.50" x2="390.30" y2="54.50" stroke="#111" stroke-width="1.2"/><line x1="392.30" y1="53.22" x2="388.70" y2="53.22" stroke="#111" stroke-width="1.2"/><line x1="392.30" y1="44.82" x2="390.30" y2="44.82" stroke="#111" stroke-width="1.2"/><line x1="392.30" y1="39.90" x2="390.30" y2="39.90" stroke="#111" stroke-width="1.2"/><line x1="392.30" y1="36.41" x2="390.30" y2="36.41" stroke="#111" stroke-width="1.2"/><line x1="392.30" y1="33.71" x2="390.30" y2="33.71" stroke="#111" stroke-width="1.2"/><line x1="392.30" y1="31.50" x2="390.30" y2="31.50" stroke="#111" stroke-width="1.2"/><line x1="392.30" y1="29.63" x2="390.30" y2="29.63" stroke="#111" stroke-width="1.2"/><line x1="392.30" y1="28.01" x2="390.30" y2="28.01" stroke="#111" stroke-width="1.2"/><line x1="392.30" y1="26.58" x2="390.30" y2="26.58" stroke="#111" stroke-width="1.2"/><line x1="392.30" y1="25.30" x2="388.70" y2="25.30" stroke="#111" stroke-width="1.2"/><text transform="translate(391.50,150.20) scale(0.87,1)" font-size="9" text-anchor="middle" stroke="#111" stroke-width="0.3">10<tspan dx="0.5" dy="-4.8" font-size="7.5">0</tspan></text><text transform="translate(421.77,150.20) scale(0.87,1)" font-size="9" text-anchor="middle" stroke="#111" stroke-width="0.3">10<tspan dx="0.5" dy="-4.8" font-size="7.5">1</tspan></text><text transform="translate(452.05,150.20) scale(0.87,1)" font-size="9" text-anchor="middle" stroke="#111" stroke-width="0.3">10<tspan dx="0.5" dy="-4.8" font-size="7.5">2</tspan></text><text transform="translate(482.32,150.20) scale(0.87,1)" font-size="9" text-anchor="middle" stroke="#111" stroke-width="0.3">10<tspan dx="0.5" dy="-4.8" font-size="7.5">3</tspan></text><text transform="translate(512.60,150.20) scale(0.87,1)" font-size="9" text-anchor="middle" stroke="#111" stroke-width="0.3">10<tspan dx="0.5" dy="-4.8" font-size="7.5">4</tspan></text><text transform="translate(385.40,136.40) rotate(-90) scale(0.87,1)" font-size="9" text-anchor="middle" stroke="#111" stroke-width="0.3">10<tspan dx="0.5" dy="-4.8" font-size="7.5">0</tspan></text><text transform="translate(385.40,108.48) rotate(-90) scale(0.87,1)" font-size="9" text-anchor="middle" stroke="#111" stroke-width="0.3">10<tspan dx="0.5" dy="-4.8" font-size="7.5">1</tspan></text><text transform="translate(385.40,80.55) rotate(-90) scale(0.87,1)" font-size="9" text-anchor="middle" stroke="#111" stroke-width="0.3">10<tspan dx="0.5" dy="-4.8" font-size="7.5">2</tspan></text><text transform="translate(385.40,52.62) rotate(-90) scale(0.87,1)" font-size="9" text-anchor="middle" stroke="#111" stroke-width="0.3">10<tspan dx="0.5" dy="-4.8" font-size="7.5">3</tspan></text><text transform="translate(385.40,24.70) rotate(-90) scale(0.87,1)" font-size="9" text-anchor="middle" stroke="#111" stroke-width="0.3">10<tspan dx="0.5" dy="-4.8" font-size="7.5">4</tspan></text><text transform="translate(451.50,159.00) scale(0.87,1)" font-size="9" font-weight="bold" text-anchor="middle">Mouse IgG1 FITC</text><text transform="translate(374.50,82.20) rotate(-90) scale(0.87,1)" font-size="9" text-anchor="middle" stroke="#111" stroke-width="0.3">CD34 PE</text><line x1="426.50" y1="25.30" x2="426.50" y2="137.00" stroke="#1a1a1a" stroke-width="1.2"/><line x1="392.30" y1="109.80" x2="513.40" y2="109.80" stroke="#1a1a1a" stroke-width="1.2"/><path d="M26.50 252.60H152.50" stroke="#444" stroke-width="1.1" fill="none"/><path d="M152.50 252.10V359.30" stroke="#444" stroke-width="1.2" fill="none"/><path d="M26.50 252.10V359.30H153.10" stroke="#111" stroke-width="1.3" fill="none"/><line x1="26.50" y1="359.30" x2="26.50" y2="362.90" stroke="#111" stroke-width="1.2"/><line x1="35.98" y1="359.30" x2="35.98" y2="361.30" stroke="#111" stroke-width="1.2"/><line x1="41.53" y1="359.30" x2="41.53" y2="361.30" stroke="#111" stroke-width="1.2"/><line x1="45.46" y1="359.30" x2="45.46" y2="361.30" stroke="#111" stroke-width="1.2"/><line x1="48.52" y1="359.30" x2="48.52" y2="361.30" stroke="#111" stroke-width="1.2"/><line x1="51.01" y1="359.30" x2="51.01" y2="361.30" stroke="#111" stroke-width="1.2"/><line x1="53.12" y1="359.30" x2="53.12" y2="361.30" stroke="#111" stroke-width="1.2"/><line x1="54.95" y1="359.30" x2="54.95" y2="361.30" stroke="#111" stroke-width="1.2"/><line x1="56.56" y1="359.30" x2="56.56" y2="361.30" stroke="#111" stroke-width="1.2"/><line x1="58.00" y1="359.30" x2="58.00" y2="362.90" stroke="#111" stroke-width="1.2"/><line x1="67.48" y1="359.30" x2="67.48" y2="361.30" stroke="#111" stroke-width="1.2"/><line x1="73.03" y1="359.30" x2="73.03" y2="361.30" stroke="#111" stroke-width="1.2"/><line x1="76.96" y1="359.30" x2="76.96" y2="361.30" stroke="#111" stroke-width="1.2"/><line x1="80.02" y1="359.30" x2="80.02" y2="361.30" stroke="#111" stroke-width="1.2"/><line x1="82.51" y1="359.30" x2="82.51" y2="361.30" stroke="#111" stroke-width="1.2"/><line x1="84.62" y1="359.30" x2="84.62" y2="361.30" stroke="#111" stroke-width="1.2"/><line x1="86.45" y1="359.30" x2="86.45" y2="361.30" stroke="#111" stroke-width="1.2"/><line x1="88.06" y1="359.30" x2="88.06" y2="361.30" stroke="#111" stroke-width="1.2"/><line x1="89.50" y1="359.30" x2="89.50" y2="362.90" stroke="#111" stroke-width="1.2"/><line x1="98.98" y1="359.30" x2="98.98" y2="361.30" stroke="#111" stroke-width="1.2"/><line x1="104.53" y1="359.30" x2="104.53" y2="361.30" stroke="#111" stroke-width="1.2"/><line x1="108.46" y1="359.30" x2="108.46" y2="361.30" stroke="#111" stroke-width="1.2"/><line x1="111.52" y1="359.30" x2="111.52" y2="361.30" stroke="#111" stroke-width="1.2"/><line x1="114.01" y1="359.30" x2="114.01" y2="361.30" stroke="#111" stroke-width="1.2"/><line x1="116.12" y1="359.30" x2="116.12" y2="361.30" stroke="#111" stroke-width="1.2"/><line x1="117.95" y1="359.30" x2="117.95" y2="361.30" stroke="#111" stroke-width="1.2"/><line x1="119.56" y1="359.30" x2="119.56" y2="361.30" stroke="#111" stroke-width="1.2"/><line x1="121.00" y1="359.30" x2="121.00" y2="362.90" stroke="#111" stroke-width="1.2"/><line x1="130.48" y1="359.30" x2="130.48" y2="361.30" stroke="#111" stroke-width="1.2"/><line x1="136.03" y1="359.30" x2="136.03" y2="361.30" stroke="#111" stroke-width="1.2"/><line x1="139.96" y1="359.30" x2="139.96" y2="361.30" stroke="#111" stroke-width="1.2"/><line x1="143.02" y1="359.30" x2="143.02" y2="361.30" stroke="#111" stroke-width="1.2"/><line x1="145.51" y1="359.30" x2="145.51" y2="361.30" stroke="#111" stroke-width="1.2"/><line x1="147.62" y1="359.30" x2="147.62" y2="361.30" stroke="#111" stroke-width="1.2"/><line x1="149.45" y1="359.30" x2="149.45" y2="361.30" stroke="#111" stroke-width="1.2"/><line x1="151.06" y1="359.30" x2="151.06" y2="361.30" stroke="#111" stroke-width="1.2"/><line x1="152.50" y1="359.30" x2="152.50" y2="362.90" stroke="#111" stroke-width="1.2"/><line x1="26.50" y1="359.30" x2="22.90" y2="359.30" stroke="#111" stroke-width="1.2"/><line x1="26.50" y1="351.27" x2="24.50" y2="351.27" stroke="#111" stroke-width="1.2"/><line x1="26.50" y1="346.57" x2="24.50" y2="346.57" stroke="#111" stroke-width="1.2"/><line x1="26.50" y1="343.24" x2="24.50" y2="343.24" stroke="#111" stroke-width="1.2"/><line x1="26.50" y1="340.65" x2="24.50" y2="340.65" stroke="#111" stroke-width="1.2"/><line x1="26.50" y1="338.54" x2="24.50" y2="338.54" stroke="#111" stroke-width="1.2"/><line x1="26.50" y1="336.76" x2="24.50" y2="336.76" stroke="#111" stroke-width="1.2"/><line x1="26.50" y1="335.21" x2="24.50" y2="335.21" stroke="#111" stroke-width="1.2"/><line x1="26.50" y1="333.85" x2="24.50" y2="333.85" stroke="#111" stroke-width="1.2"/><line x1="26.50" y1="332.62" x2="22.90" y2="332.62" stroke="#111" stroke-width="1.2"/><line x1="26.50" y1="324.60" x2="24.50" y2="324.60" stroke="#111" stroke-width="1.2"/><line x1="26.50" y1="319.90" x2="24.50" y2="319.90" stroke="#111" stroke-width="1.2"/><line x1="26.50" y1="316.57" x2="24.50" y2="316.57" stroke="#111" stroke-width="1.2"/><line x1="26.50" y1="313.98" x2="24.50" y2="313.98" stroke="#111" stroke-width="1.2"/><line x1="26.50" y1="311.87" x2="24.50" y2="311.87" stroke="#111" stroke-width="1.2"/><line x1="26.50" y1="310.08" x2="24.50" y2="310.08" stroke="#111" stroke-width="1.2"/><line x1="26.50" y1="308.54" x2="24.50" y2="308.54" stroke="#111" stroke-width="1.2"/><line x1="26.50" y1="307.17" x2="24.50" y2="307.17" stroke="#111" stroke-width="1.2"/><line x1="26.50" y1="305.95" x2="22.90" y2="305.95" stroke="#111" stroke-width="1.2"/><line x1="26.50" y1="297.92" x2="24.50" y2="297.92" stroke="#111" stroke-width="1.2"/><line x1="26.50" y1="293.22" x2="24.50" y2="293.22" stroke="#111" stroke-width="1.2"/><line x1="26.50" y1="289.89" x2="24.50" y2="289.89" stroke="#111" stroke-width="1.2"/><line x1="26.50" y1="287.30" x2="24.50" y2="287.30" stroke="#111" stroke-width="1.2"/><line x1="26.50" y1="285.19" x2="24.50" y2="285.19" stroke="#111" stroke-width="1.2"/><line x1="26.50" y1="283.41" x2="24.50" y2="283.41" stroke="#111" stroke-width="1.2"/><line x1="26.50" y1="281.86" x2="24.50" y2="281.86" stroke="#111" stroke-width="1.2"/><line x1="26.50" y1="280.50" x2="24.50" y2="280.50" stroke="#111" stroke-width="1.2"/><line x1="26.50" y1="279.27" x2="22.90" y2="279.27" stroke="#111" stroke-width="1.2"/><line x1="26.50" y1="271.25" x2="24.50" y2="271.25" stroke="#111" stroke-width="1.2"/><line x1="26.50" y1="266.55" x2="24.50" y2="266.55" stroke="#111" stroke-width="1.2"/><line x1="26.50" y1="263.22" x2="24.50" y2="263.22" stroke="#111" stroke-width="1.2"/><line x1="26.50" y1="260.63" x2="24.50" y2="260.63" stroke="#111" stroke-width="1.2"/><line x1="26.50" y1="258.52" x2="24.50" y2="258.52" stroke="#111" stroke-width="1.2"/><line x1="26.50" y1="256.73" x2="24.50" y2="256.73" stroke="#111" stroke-width="1.2"/><line x1="26.50" y1="255.19" x2="24.50" y2="255.19" stroke="#111" stroke-width="1.2"/><line x1="26.50" y1="253.82" x2="24.50" y2="253.82" stroke="#111" stroke-width="1.2"/><line x1="26.50" y1="252.60" x2="22.90" y2="252.60" stroke="#111" stroke-width="1.2"/><text transform="translate(25.70,372.30) scale(0.87,1)" font-size="9" text-anchor="middle" stroke="#111" stroke-width="0.3">10<tspan dx="0.5" dy="-4.8" font-size="7.5">0</tspan></text><text transform="translate(57.20,372.30) scale(0.87,1)" font-size="9" text-anchor="middle" stroke="#111" stroke-width="0.3">10<tspan dx="0.5" dy="-4.8" font-size="7.5">1</tspan></text><text transform="translate(88.70,372.30) scale(0.87,1)" font-size="9" text-anchor="middle" stroke="#111" stroke-width="0.3">10<tspan dx="0.5" dy="-4.8" font-size="7.5">2</tspan></text><text transform="translate(120.20,372.30) scale(0.87,1)" font-size="9" text-anchor="middle" stroke="#111" stroke-width="0.3">10<tspan dx="0.5" dy="-4.8" font-size="7.5">3</tspan></text><text transform="translate(151.70,372.30) scale(0.87,1)" font-size="9" text-anchor="middle" stroke="#111" stroke-width="0.3">10<tspan dx="0.5" dy="-4.8" font-size="7.5">4</tspan></text><text transform="translate(19.00,358.70) rotate(-90) scale(0.87,1)" font-size="9" text-anchor="middle" stroke="#111" stroke-width="0.3">10<tspan dx="0.5" dy="-4.8" font-size="7.5">0</tspan></text><text transform="translate(19.00,332.02) rotate(-90) scale(0.87,1)" font-size="9" text-anchor="middle" stroke="#111" stroke-width="0.3">10<tspan dx="0.5" dy="-4.8" font-size="7.5">1</tspan></text><text transform="translate(19.00,305.35) rotate(-90) scale(0.87,1)" font-size="9" text-anchor="middle" stroke="#111" stroke-width="0.3">10<tspan dx="0.5" dy="-4.8" font-size="7.5">2</tspan></text><text transform="translate(19.00,278.67) rotate(-90) scale(0.87,1)" font-size="9" text-anchor="middle" stroke="#111" stroke-width="0.3">10<tspan dx="0.5" dy="-4.8" font-size="7.5">3</tspan></text><text transform="translate(19.00,252.00) rotate(-90) scale(0.87,1)" font-size="9" text-anchor="middle" stroke="#111" stroke-width="0.3">10<tspan dx="0.5" dy="-4.8" font-size="7.5">4</tspan></text><text transform="translate(88.90,380.00) scale(0.905,1)" font-size="9" font-weight="bold" text-anchor="middle">Indirect FLT3 FITC</text><text transform="translate(7.70,306.80) rotate(-90) scale(0.87,1)" font-size="9" text-anchor="middle" stroke="#111" stroke-width="0.3">CD34 PE</text><rect x="28.6" y="264.0" width="33.0" height="80.0" fill="none" stroke="#1a1a1a" stroke-width="1.2"/><rect x="79.6" y="264.0" width="59.9" height="80.0" fill="none" stroke="#1a1a1a" stroke-width="1.2"/><text transform="translate(47.10,262.50) scale(0.87,1)" font-size="9" text-anchor="middle" stroke="#111" stroke-width="0.3">R3</text><text transform="translate(109.60,262.50) scale(0.87,1)" font-size="9" text-anchor="middle" stroke="#111" stroke-width="0.3">R4</text><path d="M231.80 253.40H350.00" stroke="#444" stroke-width="1.1" fill="none"/><path d="M350.00 252.90V358.20" stroke="#444" stroke-width="1.2" fill="none"/><path d="M231.80 252.90V358.20H350.60" stroke="#111" stroke-width="1.3" fill="none"/><line x1="231.80" y1="358.20" x2="231.80" y2="361.80" stroke="#111" stroke-width="1.2"/><line x1="240.70" y1="358.20" x2="240.70" y2="360.20" stroke="#111" stroke-width="1.2"/><line x1="245.90" y1="358.20" x2="245.90" y2="360.20" stroke="#111" stroke-width="1.2"/><line x1="249.59" y1="358.20" x2="249.59" y2="360.20" stroke="#111" stroke-width="1.2"/><line x1="252.45" y1="358.20" x2="252.45" y2="360.20" stroke="#111" stroke-width="1.2"/><line x1="254.79" y1="358.20" x2="254.79" y2="360.20" stroke="#111" stroke-width="1.2"/><line x1="256.77" y1="358.20" x2="256.77" y2="360.20" stroke="#111" stroke-width="1.2"/><line x1="258.49" y1="358.20" x2="258.49" y2="360.20" stroke="#111" stroke-width="1.2"/><line x1="260.00" y1="358.20" x2="260.00" y2="360.20" stroke="#111" stroke-width="1.2"/><line x1="261.35" y1="358.20" x2="261.35" y2="361.80" stroke="#111" stroke-width="1.2"/><line x1="270.25" y1="358.20" x2="270.25" y2="360.20" stroke="#111" stroke-width="1.2"/><line x1="275.45" y1="358.20" x2="275.45" y2="360.20" stroke="#111" stroke-width="1.2"/><line x1="279.14" y1="358.20" x2="279.14" y2="360.20" stroke="#111" stroke-width="1.2"/><line x1="282.00" y1="358.20" x2="282.00" y2="360.20" stroke="#111" stroke-width="1.2"/><line x1="284.34" y1="358.20" x2="284.34" y2="360.20" stroke="#111" stroke-width="1.2"/><line x1="286.32" y1="358.20" x2="286.32" y2="360.20" stroke="#111" stroke-width="1.2"/><line x1="288.04" y1="358.20" x2="288.04" y2="360.20" stroke="#111" stroke-width="1.2"/><line x1="289.55" y1="358.20" x2="289.55" y2="360.20" stroke="#111" stroke-width="1.2"/><line x1="290.90" y1="358.20" x2="290.90" y2="361.80" stroke="#111" stroke-width="1.2"/><line x1="299.80" y1="358.20" x2="299.80" y2="360.20" stroke="#111" stroke-width="1.2"/><line x1="305.00" y1="358.20" x2="305.00" y2="360.20" stroke="#111" stroke-width="1.2"/><line x1="308.69" y1="358.20" x2="308.69" y2="360.20" stroke="#111" stroke-width="1.2"/><line x1="311.55" y1="358.20" x2="311.55" y2="360.20" stroke="#111" stroke-width="1.2"/><line x1="313.89" y1="358.20" x2="313.89" y2="360.20" stroke="#111" stroke-width="1.2"/><line x1="315.87" y1="358.20" x2="315.87" y2="360.20" stroke="#111" stroke-width="1.2"/><line x1="317.59" y1="358.20" x2="317.59" y2="360.20" stroke="#111" stroke-width="1.2"/><line x1="319.10" y1="358.20" x2="319.10" y2="360.20" stroke="#111" stroke-width="1.2"/><line x1="320.45" y1="358.20" x2="320.45" y2="361.80" stroke="#111" stroke-width="1.2"/><line x1="329.35" y1="358.20" x2="329.35" y2="360.20" stroke="#111" stroke-width="1.2"/><line x1="334.55" y1="358.20" x2="334.55" y2="360.20" stroke="#111" stroke-width="1.2"/><line x1="338.24" y1="358.20" x2="338.24" y2="360.20" stroke="#111" stroke-width="1.2"/><line x1="341.10" y1="358.20" x2="341.10" y2="360.20" stroke="#111" stroke-width="1.2"/><line x1="343.44" y1="358.20" x2="343.44" y2="360.20" stroke="#111" stroke-width="1.2"/><line x1="345.42" y1="358.20" x2="345.42" y2="360.20" stroke="#111" stroke-width="1.2"/><line x1="347.14" y1="358.20" x2="347.14" y2="360.20" stroke="#111" stroke-width="1.2"/><line x1="348.65" y1="358.20" x2="348.65" y2="360.20" stroke="#111" stroke-width="1.2"/><line x1="350.00" y1="358.20" x2="350.00" y2="361.80" stroke="#111" stroke-width="1.2"/><line x1="231.80" y1="358.20" x2="228.20" y2="358.20" stroke="#111" stroke-width="1.2"/><line x1="231.80" y1="350.31" x2="229.80" y2="350.31" stroke="#111" stroke-width="1.2"/><line x1="231.80" y1="345.70" x2="229.80" y2="345.70" stroke="#111" stroke-width="1.2"/><line x1="231.80" y1="342.43" x2="229.80" y2="342.43" stroke="#111" stroke-width="1.2"/><line x1="231.80" y1="339.89" x2="229.80" y2="339.89" stroke="#111" stroke-width="1.2"/><line x1="231.80" y1="337.81" x2="229.80" y2="337.81" stroke="#111" stroke-width="1.2"/><line x1="231.80" y1="336.06" x2="229.80" y2="336.06" stroke="#111" stroke-width="1.2"/><line x1="231.80" y1="334.54" x2="229.80" y2="334.54" stroke="#111" stroke-width="1.2"/><line x1="231.80" y1="333.20" x2="229.80" y2="333.20" stroke="#111" stroke-width="1.2"/><line x1="231.80" y1="332.00" x2="228.20" y2="332.00" stroke="#111" stroke-width="1.2"/><line x1="231.80" y1="324.11" x2="229.80" y2="324.11" stroke="#111" stroke-width="1.2"/><line x1="231.80" y1="319.50" x2="229.80" y2="319.50" stroke="#111" stroke-width="1.2"/><line x1="231.80" y1="316.23" x2="229.80" y2="316.23" stroke="#111" stroke-width="1.2"/><line x1="231.80" y1="313.69" x2="229.80" y2="313.69" stroke="#111" stroke-width="1.2"/><line x1="231.80" y1="311.61" x2="229.80" y2="311.61" stroke="#111" stroke-width="1.2"/><line x1="231.80" y1="309.86" x2="229.80" y2="309.86" stroke="#111" stroke-width="1.2"/><line x1="231.80" y1="308.34" x2="229.80" y2="308.34" stroke="#111" stroke-width="1.2"/><line x1="231.80" y1="307.00" x2="229.80" y2="307.00" stroke="#111" stroke-width="1.2"/><line x1="231.80" y1="305.80" x2="228.20" y2="305.80" stroke="#111" stroke-width="1.2"/><line x1="231.80" y1="297.91" x2="229.80" y2="297.91" stroke="#111" stroke-width="1.2"/><line x1="231.80" y1="293.30" x2="229.80" y2="293.30" stroke="#111" stroke-width="1.2"/><line x1="231.80" y1="290.03" x2="229.80" y2="290.03" stroke="#111" stroke-width="1.2"/><line x1="231.80" y1="287.49" x2="229.80" y2="287.49" stroke="#111" stroke-width="1.2"/><line x1="231.80" y1="285.41" x2="229.80" y2="285.41" stroke="#111" stroke-width="1.2"/><line x1="231.80" y1="283.66" x2="229.80" y2="283.66" stroke="#111" stroke-width="1.2"/><line x1="231.80" y1="282.14" x2="229.80" y2="282.14" stroke="#111" stroke-width="1.2"/><line x1="231.80" y1="280.80" x2="229.80" y2="280.80" stroke="#111" stroke-width="1.2"/><line x1="231.80" y1="279.60" x2="228.20" y2="279.60" stroke="#111" stroke-width="1.2"/><line x1="231.80" y1="271.71" x2="229.80" y2="271.71" stroke="#111" stroke-width="1.2"/><line x1="231.80" y1="267.10" x2="229.80" y2="267.10" stroke="#111" stroke-width="1.2"/><line x1="231.80" y1="263.83" x2="229.80" y2="263.83" stroke="#111" stroke-width="1.2"/><line x1="231.80" y1="261.29" x2="229.80" y2="261.29" stroke="#111" stroke-width="1.2"/><line x1="231.80" y1="259.21" x2="229.80" y2="259.21" stroke="#111" stroke-width="1.2"/><line x1="231.80" y1="257.46" x2="229.80" y2="257.46" stroke="#111" stroke-width="1.2"/><line x1="231.80" y1="255.94" x2="229.80" y2="255.94" stroke="#111" stroke-width="1.2"/><line x1="231.80" y1="254.60" x2="229.80" y2="254.60" stroke="#111" stroke-width="1.2"/><line x1="231.80" y1="253.40" x2="228.20" y2="253.40" stroke="#111" stroke-width="1.2"/><text transform="translate(231.00,371.50) scale(0.87,1)" font-size="9" text-anchor="middle" stroke="#111" stroke-width="0.3">10<tspan dx="0.5" dy="-4.8" font-size="7.5">0</tspan></text><text transform="translate(260.55,371.50) scale(0.87,1)" font-size="9" text-anchor="middle" stroke="#111" stroke-width="0.3">10<tspan dx="0.5" dy="-4.8" font-size="7.5">1</tspan></text><text transform="translate(290.10,371.50) scale(0.87,1)" font-size="9" text-anchor="middle" stroke="#111" stroke-width="0.3">10<tspan dx="0.5" dy="-4.8" font-size="7.5">2</tspan></text><text transform="translate(319.65,371.50) scale(0.87,1)" font-size="9" text-anchor="middle" stroke="#111" stroke-width="0.3">10<tspan dx="0.5" dy="-4.8" font-size="7.5">3</tspan></text><text transform="translate(349.20,371.50) scale(0.87,1)" font-size="9" text-anchor="middle" stroke="#111" stroke-width="0.3">10<tspan dx="0.5" dy="-4.8" font-size="7.5">4</tspan></text><text transform="translate(224.60,357.60) rotate(-90) scale(0.87,1)" font-size="9" text-anchor="middle" stroke="#111" stroke-width="0.3">10<tspan dx="0.5" dy="-4.8" font-size="7.5">0</tspan></text><text transform="translate(224.60,331.40) rotate(-90) scale(0.87,1)" font-size="9" text-anchor="middle" stroke="#111" stroke-width="0.3">10<tspan dx="0.5" dy="-4.8" font-size="7.5">1</tspan></text><text transform="translate(224.60,305.20) rotate(-90) scale(0.87,1)" font-size="9" text-anchor="middle" stroke="#111" stroke-width="0.3">10<tspan dx="0.5" dy="-4.8" font-size="7.5">2</tspan></text><text transform="translate(224.60,279.00) rotate(-90) scale(0.87,1)" font-size="9" text-anchor="middle" stroke="#111" stroke-width="0.3">10<tspan dx="0.5" dy="-4.8" font-size="7.5">3</tspan></text><text transform="translate(224.60,252.80) rotate(-90) scale(0.87,1)" font-size="9" text-anchor="middle" stroke="#111" stroke-width="0.3">10<tspan dx="0.5" dy="-4.8" font-size="7.5">4</tspan></text><text transform="translate(290.00,379.40) scale(0.9,1)" font-size="8.6" font-weight="bold" text-anchor="middle">Indirect FLT3 FITC</text><text transform="translate(214.80,307.70) rotate(-90) scale(0.87,1)" font-size="9" text-anchor="middle" stroke="#111" stroke-width="0.3">CD34 PE</text><path d="M393.60 253.40H513.60" stroke="#444" stroke-width="1.1" fill="none"/><path d="M513.60 252.90V358.30" stroke="#444" stroke-width="1.2" fill="none"/><path d="M393.60 252.90V358.30H514.20" stroke="#111" stroke-width="1.3" fill="none"/><line x1="393.60" y1="358.30" x2="393.60" y2="361.90" stroke="#111" stroke-width="1.2"/><line x1="402.63" y1="358.30" x2="402.63" y2="360.30" stroke="#111" stroke-width="1.2"/><line x1="407.91" y1="358.30" x2="407.91" y2="360.30" stroke="#111" stroke-width="1.2"/><line x1="411.66" y1="358.30" x2="411.66" y2="360.30" stroke="#111" stroke-width="1.2"/><line x1="414.57" y1="358.30" x2="414.57" y2="360.30" stroke="#111" stroke-width="1.2"/><line x1="416.94" y1="358.30" x2="416.94" y2="360.30" stroke="#111" stroke-width="1.2"/><line x1="418.95" y1="358.30" x2="418.95" y2="360.30" stroke="#111" stroke-width="1.2"/><line x1="420.69" y1="358.30" x2="420.69" y2="360.30" stroke="#111" stroke-width="1.2"/><line x1="422.23" y1="358.30" x2="422.23" y2="360.30" stroke="#111" stroke-width="1.2"/><line x1="423.60" y1="358.30" x2="423.60" y2="361.90" stroke="#111" stroke-width="1.2"/><line x1="432.63" y1="358.30" x2="432.63" y2="360.30" stroke="#111" stroke-width="1.2"/><line x1="437.91" y1="358.30" x2="437.91" y2="360.30" stroke="#111" stroke-width="1.2"/><line x1="441.66" y1="358.30" x2="441.66" y2="360.30" stroke="#111" stroke-width="1.2"/><line x1="444.57" y1="358.30" x2="444.57" y2="360.30" stroke="#111" stroke-width="1.2"/><line x1="446.94" y1="358.30" x2="446.94" y2="360.30" stroke="#111" stroke-width="1.2"/><line x1="448.95" y1="358.30" x2="448.95" y2="360.30" stroke="#111" stroke-width="1.2"/><line x1="450.69" y1="358.30" x2="450.69" y2="360.30" stroke="#111" stroke-width="1.2"/><line x1="452.23" y1="358.30" x2="452.23" y2="360.30" stroke="#111" stroke-width="1.2"/><line x1="453.60" y1="358.30" x2="453.60" y2="361.90" stroke="#111" stroke-width="1.2"/><line x1="462.63" y1="358.30" x2="462.63" y2="360.30" stroke="#111" stroke-width="1.2"/><line x1="467.91" y1="358.30" x2="467.91" y2="360.30" stroke="#111" stroke-width="1.2"/><line x1="471.66" y1="358.30" x2="471.66" y2="360.30" stroke="#111" stroke-width="1.2"/><line x1="474.57" y1="358.30" x2="474.57" y2="360.30" stroke="#111" stroke-width="1.2"/><line x1="476.94" y1="358.30" x2="476.94" y2="360.30" stroke="#111" stroke-width="1.2"/><line x1="478.95" y1="358.30" x2="478.95" y2="360.30" stroke="#111" stroke-width="1.2"/><line x1="480.69" y1="358.30" x2="480.69" y2="360.30" stroke="#111" stroke-width="1.2"/><line x1="482.23" y1="358.30" x2="482.23" y2="360.30" stroke="#111" stroke-width="1.2"/><line x1="483.60" y1="358.30" x2="483.60" y2="361.90" stroke="#111" stroke-width="1.2"/><line x1="492.63" y1="358.30" x2="492.63" y2="360.30" stroke="#111" stroke-width="1.2"/><line x1="497.91" y1="358.30" x2="497.91" y2="360.30" stroke="#111" stroke-width="1.2"/><line x1="501.66" y1="358.30" x2="501.66" y2="360.30" stroke="#111" stroke-width="1.2"/><line x1="504.57" y1="358.30" x2="504.57" y2="360.30" stroke="#111" stroke-width="1.2"/><line x1="506.94" y1="358.30" x2="506.94" y2="360.30" stroke="#111" stroke-width="1.2"/><line x1="508.95" y1="358.30" x2="508.95" y2="360.30" stroke="#111" stroke-width="1.2"/><line x1="510.69" y1="358.30" x2="510.69" y2="360.30" stroke="#111" stroke-width="1.2"/><line x1="512.23" y1="358.30" x2="512.23" y2="360.30" stroke="#111" stroke-width="1.2"/><line x1="513.60" y1="358.30" x2="513.60" y2="361.90" stroke="#111" stroke-width="1.2"/><line x1="393.60" y1="358.30" x2="390.00" y2="358.30" stroke="#111" stroke-width="1.2"/><line x1="393.60" y1="350.41" x2="391.60" y2="350.41" stroke="#111" stroke-width="1.2"/><line x1="393.60" y1="345.79" x2="391.60" y2="345.79" stroke="#111" stroke-width="1.2"/><line x1="393.60" y1="342.51" x2="391.60" y2="342.51" stroke="#111" stroke-width="1.2"/><line x1="393.60" y1="339.97" x2="391.60" y2="339.97" stroke="#111" stroke-width="1.2"/><line x1="393.60" y1="337.89" x2="391.60" y2="337.89" stroke="#111" stroke-width="1.2"/><line x1="393.60" y1="336.14" x2="391.60" y2="336.14" stroke="#111" stroke-width="1.2"/><line x1="393.60" y1="334.62" x2="391.60" y2="334.62" stroke="#111" stroke-width="1.2"/><line x1="393.60" y1="333.27" x2="391.60" y2="333.27" stroke="#111" stroke-width="1.2"/><line x1="393.60" y1="332.07" x2="390.00" y2="332.07" stroke="#111" stroke-width="1.2"/><line x1="393.60" y1="324.18" x2="391.60" y2="324.18" stroke="#111" stroke-width="1.2"/><line x1="393.60" y1="319.56" x2="391.60" y2="319.56" stroke="#111" stroke-width="1.2"/><line x1="393.60" y1="316.29" x2="391.60" y2="316.29" stroke="#111" stroke-width="1.2"/><line x1="393.60" y1="313.74" x2="391.60" y2="313.74" stroke="#111" stroke-width="1.2"/><line x1="393.60" y1="311.67" x2="391.60" y2="311.67" stroke="#111" stroke-width="1.2"/><line x1="393.60" y1="309.91" x2="391.60" y2="309.91" stroke="#111" stroke-width="1.2"/><line x1="393.60" y1="308.39" x2="391.60" y2="308.39" stroke="#111" stroke-width="1.2"/><line x1="393.60" y1="307.05" x2="391.60" y2="307.05" stroke="#111" stroke-width="1.2"/><line x1="393.60" y1="305.85" x2="390.00" y2="305.85" stroke="#111" stroke-width="1.2"/><line x1="393.60" y1="297.96" x2="391.60" y2="297.96" stroke="#111" stroke-width="1.2"/><line x1="393.60" y1="293.34" x2="391.60" y2="293.34" stroke="#111" stroke-width="1.2"/><line x1="393.60" y1="290.06" x2="391.60" y2="290.06" stroke="#111" stroke-width="1.2"/><line x1="393.60" y1="287.52" x2="391.60" y2="287.52" stroke="#111" stroke-width="1.2"/><line x1="393.60" y1="285.44" x2="391.60" y2="285.44" stroke="#111" stroke-width="1.2"/><line x1="393.60" y1="283.69" x2="391.60" y2="283.69" stroke="#111" stroke-width="1.2"/><line x1="393.60" y1="282.17" x2="391.60" y2="282.17" stroke="#111" stroke-width="1.2"/><line x1="393.60" y1="280.82" x2="391.60" y2="280.82" stroke="#111" stroke-width="1.2"/><line x1="393.60" y1="279.62" x2="390.00" y2="279.62" stroke="#111" stroke-width="1.2"/><line x1="393.60" y1="271.73" x2="391.60" y2="271.73" stroke="#111" stroke-width="1.2"/><line x1="393.60" y1="267.11" x2="391.60" y2="267.11" stroke="#111" stroke-width="1.2"/><line x1="393.60" y1="263.84" x2="391.60" y2="263.84" stroke="#111" stroke-width="1.2"/><line x1="393.60" y1="261.29" x2="391.60" y2="261.29" stroke="#111" stroke-width="1.2"/><line x1="393.60" y1="259.22" x2="391.60" y2="259.22" stroke="#111" stroke-width="1.2"/><line x1="393.60" y1="257.46" x2="391.60" y2="257.46" stroke="#111" stroke-width="1.2"/><line x1="393.60" y1="255.94" x2="391.60" y2="255.94" stroke="#111" stroke-width="1.2"/><line x1="393.60" y1="254.60" x2="391.60" y2="254.60" stroke="#111" stroke-width="1.2"/><line x1="393.60" y1="253.40" x2="390.00" y2="253.40" stroke="#111" stroke-width="1.2"/><text transform="translate(392.80,371.60) scale(0.87,1)" font-size="9" text-anchor="middle" stroke="#111" stroke-width="0.3">10<tspan dx="0.5" dy="-4.8" font-size="7.5">0</tspan></text><text transform="translate(422.80,371.60) scale(0.87,1)" font-size="9" text-anchor="middle" stroke="#111" stroke-width="0.3">10<tspan dx="0.5" dy="-4.8" font-size="7.5">1</tspan></text><text transform="translate(452.80,371.60) scale(0.87,1)" font-size="9" text-anchor="middle" stroke="#111" stroke-width="0.3">10<tspan dx="0.5" dy="-4.8" font-size="7.5">2</tspan></text><text transform="translate(482.80,371.60) scale(0.87,1)" font-size="9" text-anchor="middle" stroke="#111" stroke-width="0.3">10<tspan dx="0.5" dy="-4.8" font-size="7.5">3</tspan></text><text transform="translate(512.80,371.60) scale(0.87,1)" font-size="9" text-anchor="middle" stroke="#111" stroke-width="0.3">10<tspan dx="0.5" dy="-4.8" font-size="7.5">4</tspan></text><text transform="translate(386.40,357.70) rotate(-90) scale(0.87,1)" font-size="9" text-anchor="middle" stroke="#111" stroke-width="0.3">10<tspan dx="0.5" dy="-4.8" font-size="7.5">0</tspan></text><text transform="translate(386.40,331.47) rotate(-90) scale(0.87,1)" font-size="9" text-anchor="middle" stroke="#111" stroke-width="0.3">10<tspan dx="0.5" dy="-4.8" font-size="7.5">1</tspan></text><text transform="translate(386.40,305.25) rotate(-90) scale(0.87,1)" font-size="9" text-anchor="middle" stroke="#111" stroke-width="0.3">10<tspan dx="0.5" dy="-4.8" font-size="7.5">2</tspan></text><text transform="translate(386.40,279.02) rotate(-90) scale(0.87,1)" font-size="9" text-anchor="middle" stroke="#111" stroke-width="0.3">10<tspan dx="0.5" dy="-4.8" font-size="7.5">3</tspan></text><text transform="translate(386.40,252.80) rotate(-90) scale(0.87,1)" font-size="9" text-anchor="middle" stroke="#111" stroke-width="0.3">10<tspan dx="0.5" dy="-4.8" font-size="7.5">4</tspan></text><text transform="translate(451.90,379.50) scale(0.9,1)" font-size="8.6" font-weight="bold" text-anchor="middle">Indirect FLT3 FITC</text><text transform="translate(375.70,306.80) rotate(-90) scale(0.87,1)" font-size="9" text-anchor="middle" stroke="#111" stroke-width="0.3">CD34 PE</text></g></svg></body></html>
